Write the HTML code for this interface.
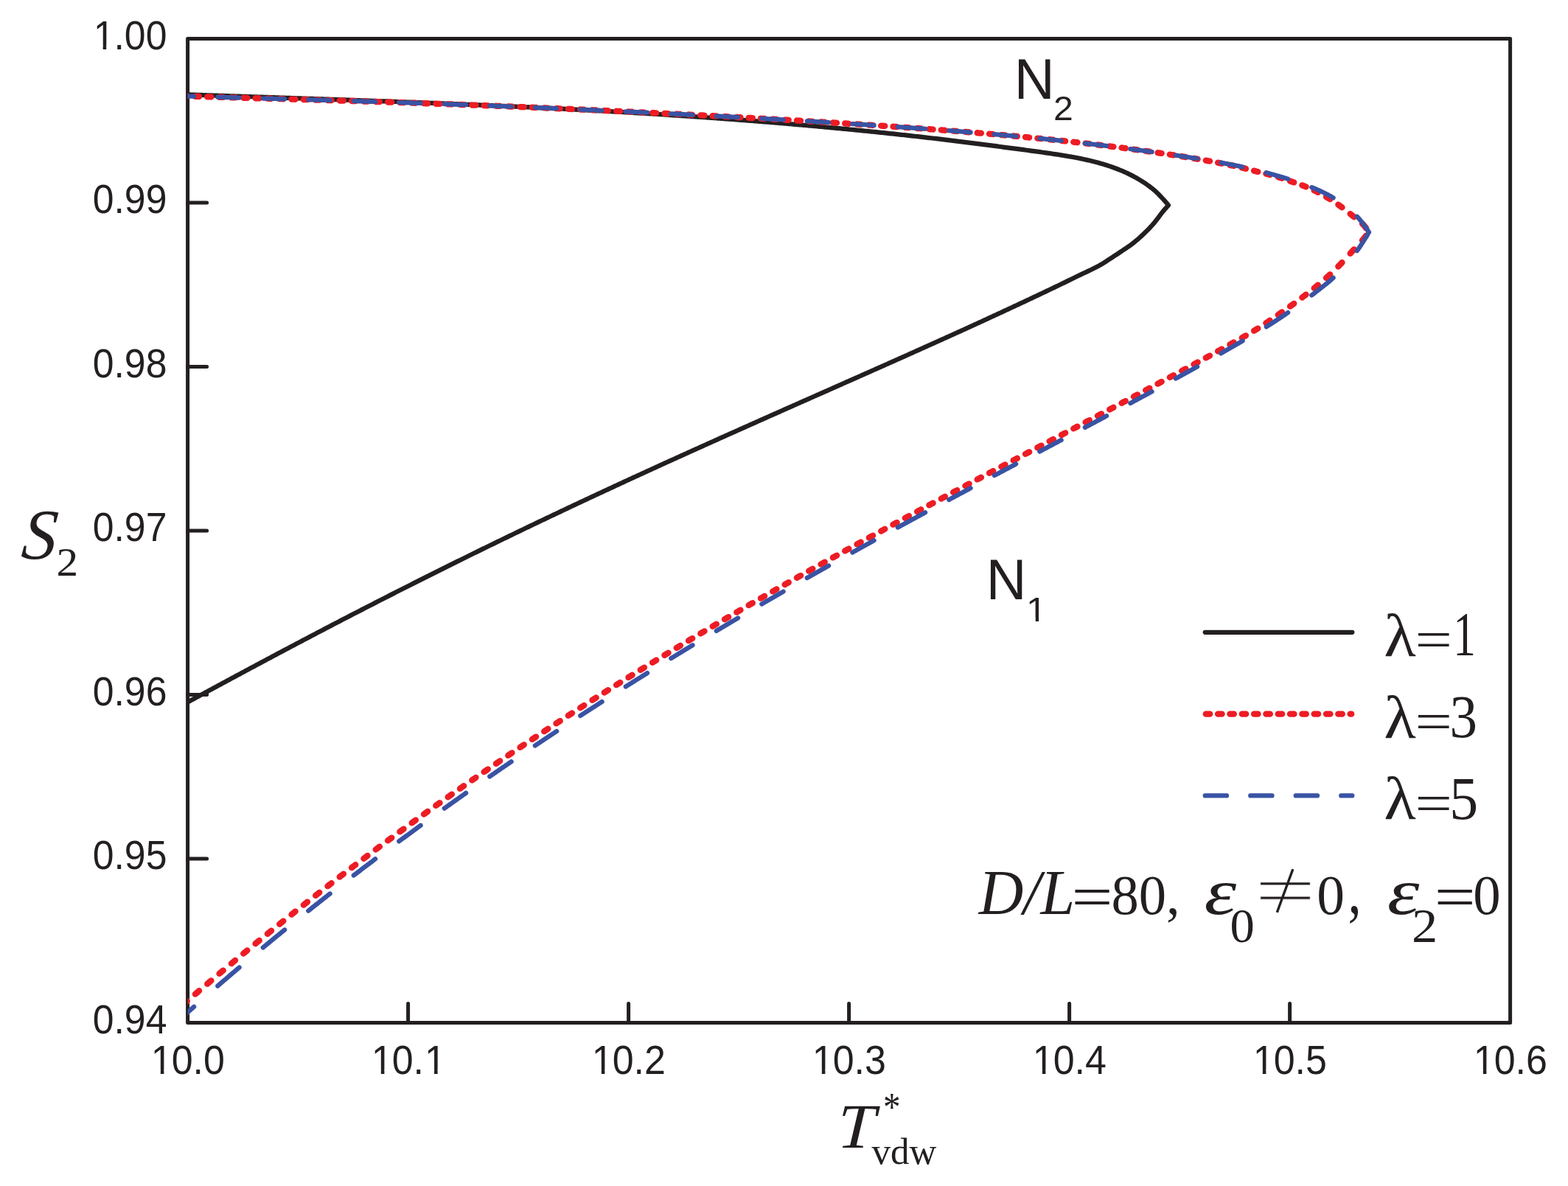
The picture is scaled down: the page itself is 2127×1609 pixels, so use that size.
<!DOCTYPE html>
<html lang="en">
<head>
<meta charset="utf-8">
<title>S2 versus T*vdw</title>
<style>
html,body{margin:0;padding:0;background:#fff;}
body{width:2127px;height:1609px;overflow:hidden;}
svg{display:block;}
text{fill:#231f20;}
</style>
</head>
<body>
<svg xmlns="http://www.w3.org/2000/svg" width="2127" height="1609" viewBox="0 0 2127 1609">
<rect width="2127" height="1609" fill="#fff"/>
<defs><clipPath id="plot"><rect x="254.6" y="52.5" width="1794.0" height="1335.0"/></clipPath></defs>
<!-- axes frame and ticks -->
<g fill="none" stroke="#231f20" stroke-width="5.0" stroke-linecap="round" stroke-linejoin="round">
<rect x="254.6" y="52.5" width="1794.0" height="1335.0"/>
<path d="M553.60,1387.5 V1361.50 M254.6,275.00 H280.60 M852.60,1387.5 V1361.50 M254.6,497.50 H280.60 M1151.60,1387.5 V1361.50 M254.6,720.00 H280.60 M1450.60,1387.5 V1361.50 M254.6,942.50 H280.60 M1749.60,1387.5 V1361.50 M254.6,1165.00 H280.60"/>
</g>
<!-- data curves -->
<g clip-path="url(#plot)" fill="none" stroke-linecap="round" stroke-linejoin="round">
<path stroke="#231f20" stroke-width="6.25" d="M229.60,127.49 L231.60,127.56 L233.60,127.63 L235.61,127.70 L237.61,127.76 L239.61,127.83 L241.61,127.90 L243.61,127.97 L245.62,128.04 L247.62,128.10 L249.62,128.17 L251.62,128.24 L253.62,128.31 L255.63,128.37 L257.63,128.44 L259.63,128.51 L261.63,128.58 L263.64,128.65 L265.64,128.71 L267.64,128.78 L269.64,128.85 L271.64,128.92 L273.65,128.98 L275.65,129.05 L277.65,129.12 L279.65,129.19 L281.65,129.25 L283.66,129.32 L285.66,129.39 L287.66,129.45 L289.66,129.52 L291.66,129.59 L293.67,129.66 L295.67,129.72 L297.67,129.79 L299.67,129.86 L301.67,129.92 L303.68,129.99 L305.68,130.06 L307.68,130.12 L309.68,130.19 L311.68,130.26 L313.69,130.32 L315.69,130.39 L317.69,130.46 L319.69,130.52 L321.70,130.59 L323.70,130.66 L325.70,130.72 L327.70,130.79 L329.70,130.85 L331.71,130.92 L333.71,130.99 L335.71,131.05 L337.71,131.12 L339.71,131.18 L341.72,131.25 L343.72,131.32 L345.72,131.38 L347.72,131.45 L349.72,131.51 L351.73,131.58 L353.73,131.65 L355.73,131.71 L357.73,131.78 L359.73,131.84 L361.74,131.91 L363.74,131.98 L365.74,132.04 L367.74,132.11 L369.74,132.17 L371.75,132.24 L373.75,132.31 L375.75,132.37 L377.75,132.44 L379.76,132.51 L381.76,132.57 L383.76,132.64 L385.76,132.71 L387.76,132.78 L389.77,132.84 L391.77,132.91 L393.77,132.98 L395.77,133.04 L397.77,133.11 L399.78,133.18 L401.78,133.25 L403.78,133.31 L405.78,133.38 L407.78,133.45 L409.79,133.52 L411.79,133.58 L413.79,133.65 L415.79,133.72 L417.79,133.79 L419.80,133.85 L421.80,133.92 L423.80,133.99 L425.80,134.06 L427.80,134.12 L429.81,134.19 L431.81,134.26 L433.81,134.33 L435.81,134.40 L437.82,134.46 L439.82,134.53 L441.82,134.60 L443.82,134.67 L445.82,134.74 L447.83,134.80 L449.83,134.87 L451.83,134.94 L453.83,135.01 L455.83,135.08 L457.84,135.15 L459.84,135.22 L461.84,135.29 L463.84,135.35 L465.84,135.42 L467.85,135.49 L469.85,135.56 L471.85,135.63 L473.85,135.70 L475.85,135.77 L477.86,135.84 L479.86,135.91 L481.86,135.98 L483.86,136.05 L485.86,136.12 L487.87,136.20 L489.87,136.27 L491.87,136.34 L493.87,136.41 L495.88,136.48 L497.88,136.55 L499.88,136.62 L501.88,136.70 L503.88,136.77 L505.89,136.84 L507.89,136.91 L509.89,136.98 L511.89,137.06 L513.89,137.13 L515.90,137.20 L517.90,137.27 L519.90,137.35 L521.90,137.42 L523.90,137.49 L525.91,137.56 L527.91,137.64 L529.91,137.71 L531.91,137.78 L533.91,137.86 L535.92,137.93 L537.92,138.00 L539.92,138.08 L541.92,138.15 L543.92,138.23 L545.93,138.30 L547.93,138.38 L549.93,138.45 L551.93,138.53 L553.94,138.60 L555.94,138.68 L557.94,138.75 L559.94,138.83 L561.94,138.90 L563.95,138.98 L565.95,139.06 L567.95,139.13 L569.95,139.21 L571.95,139.29 L573.96,139.36 L575.96,139.44 L577.96,139.52 L579.96,139.60 L581.96,139.67 L583.97,139.75 L585.97,139.83 L587.97,139.91 L589.97,139.99 L591.97,140.07 L593.98,140.15 L595.98,140.23 L597.98,140.31 L599.98,140.38 L601.98,140.46 L603.99,140.54 L605.99,140.63 L607.99,140.71 L609.99,140.79 L611.99,140.87 L614.00,140.95 L616.00,141.03 L618.00,141.11 L620.00,141.19 L622.01,141.27 L624.01,141.36 L626.01,141.44 L628.01,141.52 L630.01,141.60 L632.02,141.69 L634.02,141.77 L636.02,141.85 L638.02,141.94 L640.02,142.02 L642.03,142.10 L644.03,142.19 L646.03,142.27 L648.03,142.36 L650.03,142.44 L652.04,142.53 L654.04,142.61 L656.04,142.70 L658.04,142.79 L660.04,142.87 L662.05,142.96 L664.05,143.05 L666.05,143.13 L668.05,143.22 L670.05,143.31 L672.06,143.40 L674.06,143.48 L676.06,143.57 L678.06,143.66 L680.07,143.75 L682.07,143.84 L684.07,143.93 L686.07,144.02 L688.07,144.11 L690.08,144.20 L692.08,144.29 L694.08,144.38 L696.08,144.47 L698.08,144.56 L700.09,144.65 L702.09,144.75 L704.09,144.84 L706.09,144.93 L708.09,145.02 L710.10,145.12 L712.10,145.21 L714.10,145.30 L716.10,145.40 L718.10,145.49 L720.11,145.59 L722.11,145.68 L724.11,145.78 L726.11,145.87 L728.11,145.97 L730.12,146.06 L732.12,146.16 L734.12,146.26 L736.12,146.35 L738.13,146.45 L740.13,146.55 L742.13,146.65 L744.13,146.74 L746.13,146.84 L748.14,146.94 L750.14,147.04 L752.14,147.14 L754.14,147.24 L756.14,147.34 L758.15,147.44 L760.15,147.54 L762.15,147.64 L764.15,147.74 L766.15,147.85 L768.16,147.95 L770.16,148.05 L772.16,148.15 L774.16,148.26 L776.16,148.36 L778.17,148.46 L780.17,148.57 L782.17,148.67 L784.17,148.78 L786.17,148.88 L788.18,148.99 L790.18,149.09 L792.18,149.20 L794.18,149.31 L796.19,149.41 L798.19,149.52 L800.19,149.63 L802.19,149.74 L804.19,149.84 L806.20,149.95 L808.20,150.06 L810.20,150.17 L812.20,150.28 L814.20,150.39 L816.21,150.50 L818.21,150.61 L820.21,150.72 L822.21,150.84 L824.21,150.95 L826.22,151.06 L828.22,151.17 L830.22,151.29 L832.22,151.40 L834.22,151.51 L836.23,151.63 L838.23,151.74 L840.23,151.86 L842.23,151.97 L844.23,152.09 L846.24,152.21 L848.24,152.32 L850.24,152.44 L852.24,152.56 L854.25,152.67 L856.25,152.79 L858.25,152.91 L860.25,153.03 L862.25,153.15 L864.26,153.27 L866.26,153.39 L868.26,153.51 L870.26,153.63 L872.26,153.75 L874.27,153.87 L876.27,154.00 L878.27,154.12 L880.27,154.24 L882.27,154.37 L884.28,154.49 L886.28,154.61 L888.28,154.74 L890.28,154.86 L892.28,154.99 L894.29,155.12 L896.29,155.24 L898.29,155.37 L900.29,155.50 L902.29,155.62 L904.30,155.75 L906.30,155.88 L908.30,156.01 L910.30,156.14 L912.31,156.27 L914.31,156.40 L916.31,156.53 L918.31,156.66 L920.31,156.80 L922.32,156.93 L924.32,157.06 L926.32,157.20 L928.32,157.33 L930.32,157.46 L932.33,157.60 L934.33,157.73 L936.33,157.87 L938.33,158.01 L940.33,158.14 L942.34,158.28 L944.34,158.42 L946.34,158.55 L948.34,158.69 L950.34,158.83 L952.35,158.97 L954.35,159.11 L956.35,159.25 L958.35,159.39 L960.35,159.53 L962.36,159.67 L964.36,159.82 L966.36,159.96 L968.36,160.10 L970.37,160.24 L972.37,160.39 L974.37,160.53 L976.37,160.68 L978.37,160.82 L980.38,160.97 L982.38,161.11 L984.38,161.26 L986.38,161.41 L988.38,161.56 L990.39,161.71 L992.39,161.85 L994.39,162.00 L996.39,162.15 L998.39,162.30 L1000.40,162.46 L1002.40,162.61 L1004.40,162.76 L1006.40,162.91 L1008.40,163.07 L1010.41,163.22 L1012.41,163.37 L1014.41,163.53 L1016.41,163.69 L1018.41,163.84 L1020.42,164.00 L1022.42,164.15 L1024.42,164.31 L1026.42,164.47 L1028.43,164.63 L1030.43,164.79 L1032.43,164.95 L1034.43,165.11 L1036.43,165.27 L1038.44,165.43 L1040.44,165.59 L1042.44,165.75 L1044.44,165.92 L1046.44,166.08 L1048.45,166.24 L1050.45,166.41 L1052.45,166.57 L1054.45,166.74 L1056.45,166.91 L1058.46,167.07 L1060.46,167.24 L1062.46,167.41 L1064.46,167.57 L1066.46,167.74 L1068.47,167.91 L1070.47,168.08 L1072.47,168.25 L1074.47,168.42 L1076.47,168.59 L1078.48,168.77 L1080.48,168.94 L1082.48,169.11 L1084.48,169.29 L1086.49,169.46 L1088.49,169.64 L1090.49,169.81 L1092.49,169.99 L1094.49,170.16 L1096.50,170.34 L1098.50,170.52 L1100.50,170.70 L1102.50,170.88 L1104.50,171.06 L1106.51,171.24 L1108.51,171.42 L1110.51,171.60 L1112.51,171.79 L1114.51,171.97 L1116.52,172.15 L1118.52,172.34 L1120.52,172.52 L1122.52,172.71 L1124.52,172.89 L1126.53,173.08 L1128.53,173.27 L1130.53,173.45 L1132.53,173.64 L1134.53,173.83 L1136.54,174.02 L1138.54,174.21 L1140.54,174.40 L1142.54,174.60 L1144.55,174.79 L1146.55,174.98 L1148.55,175.17 L1150.55,175.37 L1152.55,175.56 L1154.56,175.76 L1156.56,175.95 L1158.56,176.15 L1160.56,176.34 L1162.56,176.54 L1164.57,176.74 L1166.57,176.94 L1168.57,177.14 L1170.57,177.34 L1172.57,177.54 L1174.58,177.74 L1176.58,177.94 L1178.58,178.14 L1180.58,178.35 L1182.58,178.55 L1184.59,178.76 L1186.59,178.96 L1188.59,179.17 L1190.59,179.37 L1192.59,179.58 L1194.60,179.79 L1196.60,180.00 L1198.60,180.21 L1200.60,180.42 L1202.61,180.63 L1204.61,180.84 L1206.61,181.05 L1208.61,181.27 L1210.61,181.48 L1212.62,181.70 L1214.62,181.91 L1216.62,182.13 L1218.62,182.34 L1220.62,182.56 L1222.63,182.78 L1224.63,183.00 L1226.63,183.22 L1228.63,183.44 L1230.63,183.66 L1232.64,183.88 L1234.64,184.10 L1236.64,184.32 L1238.64,184.54 L1240.64,184.77 L1242.65,184.99 L1244.65,185.22 L1246.65,185.44 L1248.65,185.67 L1250.65,185.90 L1252.66,186.13 L1254.66,186.35 L1256.66,186.58 L1258.66,186.81 L1260.66,187.04 L1262.67,187.27 L1264.67,187.51 L1266.67,187.74 L1268.67,187.97 L1270.68,188.20 L1272.68,188.44 L1274.68,188.68 L1276.68,188.91 L1278.68,189.15 L1280.69,189.39 L1282.69,189.63 L1284.69,189.87 L1286.69,190.11 L1288.69,190.35 L1290.70,190.59 L1292.70,190.83 L1294.70,191.07 L1296.70,191.32 L1298.70,191.56 L1300.71,191.81 L1302.71,192.06 L1304.71,192.30 L1306.71,192.55 L1308.71,192.80 L1310.72,193.05 L1312.72,193.30 L1314.72,193.55 L1316.72,193.80 L1318.72,194.05 L1320.73,194.31 L1322.73,194.56 L1324.73,194.82 L1326.73,195.07 L1328.74,195.33 L1330.74,195.59 L1332.74,195.84 L1334.74,196.10 L1336.74,196.36 L1338.75,196.62 L1340.75,196.88 L1342.75,197.14 L1344.75,197.40 L1346.75,197.67 L1348.76,197.93 L1350.76,198.19 L1352.76,198.46 L1354.76,198.73 L1356.76,198.99 L1358.77,199.26 L1360.77,199.53 L1362.77,199.79 L1364.77,200.06 L1366.77,200.32 L1368.78,200.59 L1370.78,200.85 L1372.78,201.11 L1374.78,201.38 L1376.78,201.64 L1378.79,201.90 L1380.79,202.16 L1382.79,202.43 L1384.79,202.69 L1386.80,202.95 L1388.80,203.22 L1390.80,203.48 L1392.80,203.75 L1394.80,204.01 L1396.81,204.28 L1398.81,204.55 L1400.81,204.82 L1402.81,205.09 L1404.81,205.36 L1406.82,205.63 L1408.82,205.91 L1410.82,206.19 L1412.82,206.47 L1414.82,206.75 L1416.83,207.03 L1418.83,207.32 L1420.83,207.61 L1422.83,207.90 L1424.83,208.19 L1426.84,208.49 L1428.84,208.79 L1430.84,209.10 L1432.84,209.40 L1434.84,209.71 L1436.85,210.03 L1438.85,210.34 L1440.85,210.66 L1442.85,210.99 L1444.86,211.32 L1446.86,211.65 L1448.86,211.99 L1450.86,212.33 L1452.86,212.68 L1454.87,213.03 L1456.87,213.38 L1458.87,213.75 L1460.87,214.13 L1462.87,214.52 L1464.88,214.92 L1466.88,215.33 L1468.88,215.75 L1470.88,216.19 L1472.88,216.63 L1474.89,217.09 L1476.89,217.55 L1478.89,218.03 L1480.89,218.52 L1482.89,219.02 L1484.90,219.53 L1486.90,220.05 L1488.90,220.59 L1490.90,221.13 L1492.90,221.70 L1494.91,222.27 L1496.91,222.86 L1498.91,223.47 L1500.91,224.09 L1502.92,224.73 L1504.92,225.39 L1506.92,226.06 L1508.92,226.75 L1510.92,227.46 L1512.93,228.20 L1514.93,228.96 L1516.93,229.74 L1518.93,230.54 L1520.93,231.37 L1522.94,232.22 L1524.94,233.10 L1526.94,234.00 L1528.94,234.92 L1530.94,235.87 L1532.95,236.85 L1534.95,237.86 L1536.95,238.89 L1538.95,239.95 L1540.95,241.04 L1542.96,242.17 L1544.96,243.34 L1546.96,244.55 L1548.96,245.79 L1550.96,247.08 L1552.97,248.40 L1554.97,249.77 L1556.97,251.19 L1558.97,252.64 L1560.98,254.15 L1562.98,255.70 L1564.98,257.31 L1566.98,259.04 L1568.98,260.91 L1570.99,262.89 L1572.99,264.95 L1574.99,267.08 L1576.99,269.25 L1578.99,271.42 L1581.00,273.66 L1583.00,276.00 L1585.00,278.40 L1583.00,280.58 L1581.00,282.83 L1578.99,285.15 L1576.99,287.59 L1574.99,290.17 L1572.99,292.83 L1570.99,295.52 L1568.98,298.17 L1566.98,300.74 L1564.98,303.16 L1562.98,305.44 L1560.98,307.64 L1558.97,309.78 L1556.97,311.85 L1554.97,313.87 L1552.97,315.84 L1550.96,317.76 L1548.96,319.64 L1546.96,321.48 L1544.96,323.28 L1542.96,325.03 L1540.95,326.73 L1538.95,328.38 L1536.95,329.97 L1534.95,331.50 L1532.95,332.96 L1530.94,334.37 L1528.94,335.74 L1526.94,337.09 L1524.94,338.43 L1522.94,339.77 L1520.93,341.12 L1518.93,342.46 L1516.93,343.79 L1514.93,345.12 L1512.93,346.43 L1510.92,347.73 L1508.92,349.03 L1506.92,350.33 L1504.92,351.64 L1502.92,352.96 L1500.91,354.27 L1498.91,355.57 L1496.91,356.84 L1494.91,358.07 L1492.90,359.26 L1490.90,360.39 L1488.90,361.47 L1486.90,362.52 L1484.90,363.54 L1482.89,364.54 L1480.89,365.51 L1478.89,366.47 L1476.89,367.42 L1474.89,368.36 L1472.88,369.29 L1470.88,370.23 L1468.88,371.16 L1466.88,372.11 L1464.88,373.07 L1462.87,374.05 L1460.87,375.03 L1458.87,376.01 L1456.87,376.99 L1454.87,377.97 L1452.86,378.95 L1450.86,379.93 L1448.86,380.91 L1446.86,381.89 L1444.86,382.87 L1442.85,383.84 L1440.85,384.81 L1438.85,385.78 L1436.85,386.75 L1434.84,387.71 L1432.84,388.67 L1430.84,389.63 L1428.84,390.59 L1426.84,391.55 L1424.83,392.50 L1422.83,393.46 L1420.83,394.41 L1418.83,395.37 L1416.83,396.32 L1414.82,397.27 L1412.82,398.22 L1410.82,399.17 L1408.82,400.12 L1406.82,401.06 L1404.81,402.01 L1402.81,402.95 L1400.81,403.90 L1398.81,404.84 L1396.81,405.79 L1394.80,406.73 L1392.80,407.67 L1390.80,408.61 L1388.80,409.55 L1386.80,410.49 L1384.79,411.42 L1382.79,412.36 L1380.79,413.30 L1378.79,414.23 L1376.78,415.17 L1374.78,416.10 L1372.78,417.04 L1370.78,417.97 L1368.78,418.90 L1366.77,419.83 L1364.77,420.76 L1362.77,421.69 L1360.77,422.62 L1358.77,423.55 L1356.76,424.48 L1354.76,425.41 L1352.76,426.33 L1350.76,427.26 L1348.76,428.19 L1346.75,429.11 L1344.75,430.04 L1342.75,430.96 L1340.75,431.88 L1338.75,432.81 L1336.74,433.73 L1334.74,434.65 L1332.74,435.57 L1330.74,436.49 L1328.74,437.41 L1326.73,438.33 L1324.73,439.25 L1322.73,440.16 L1320.73,441.08 L1318.72,441.99 L1316.72,442.91 L1314.72,443.82 L1312.72,444.73 L1310.72,445.65 L1308.71,446.56 L1306.71,447.47 L1304.71,448.38 L1302.71,449.29 L1300.71,450.20 L1298.70,451.10 L1296.70,452.01 L1294.70,452.92 L1292.70,453.83 L1290.70,454.73 L1288.69,455.64 L1286.69,456.54 L1284.69,457.45 L1282.69,458.35 L1280.69,459.25 L1278.68,460.16 L1276.68,461.06 L1274.68,461.96 L1272.68,462.86 L1270.68,463.77 L1268.67,464.67 L1266.67,465.57 L1264.67,466.47 L1262.67,467.37 L1260.66,468.27 L1258.66,469.17 L1256.66,470.07 L1254.66,470.97 L1252.66,471.87 L1250.65,472.77 L1248.65,473.67 L1246.65,474.57 L1244.65,475.47 L1242.65,476.37 L1240.64,477.27 L1238.64,478.16 L1236.64,479.06 L1234.64,479.96 L1232.64,480.85 L1230.63,481.75 L1228.63,482.65 L1226.63,483.54 L1224.63,484.43 L1222.63,485.33 L1220.62,486.22 L1218.62,487.11 L1216.62,488.01 L1214.62,488.90 L1212.62,489.79 L1210.61,490.68 L1208.61,491.57 L1206.61,492.46 L1204.61,493.35 L1202.61,494.24 L1200.60,495.13 L1198.60,496.02 L1196.60,496.91 L1194.60,497.80 L1192.59,498.69 L1190.59,499.58 L1188.59,500.47 L1186.59,501.36 L1184.59,502.25 L1182.58,503.13 L1180.58,504.02 L1178.58,504.91 L1176.58,505.80 L1174.58,506.69 L1172.57,507.58 L1170.57,508.46 L1168.57,509.35 L1166.57,510.24 L1164.57,511.13 L1162.56,512.02 L1160.56,512.90 L1158.56,513.79 L1156.56,514.68 L1154.56,515.57 L1152.55,516.46 L1150.55,517.35 L1148.55,518.23 L1146.55,519.12 L1144.55,520.01 L1142.54,520.90 L1140.54,521.79 L1138.54,522.68 L1136.54,523.56 L1134.53,524.45 L1132.53,525.34 L1130.53,526.22 L1128.53,527.11 L1126.53,528.00 L1124.52,528.88 L1122.52,529.77 L1120.52,530.66 L1118.52,531.54 L1116.52,532.43 L1114.51,533.31 L1112.51,534.20 L1110.51,535.08 L1108.51,535.97 L1106.51,536.86 L1104.50,537.74 L1102.50,538.63 L1100.50,539.51 L1098.50,540.40 L1096.50,541.28 L1094.49,542.17 L1092.49,543.06 L1090.49,543.94 L1088.49,544.83 L1086.49,545.71 L1084.48,546.60 L1082.48,547.49 L1080.48,548.37 L1078.48,549.26 L1076.47,550.15 L1074.47,551.03 L1072.47,551.92 L1070.47,552.81 L1068.47,553.70 L1066.46,554.59 L1064.46,555.47 L1062.46,556.36 L1060.46,557.25 L1058.46,558.14 L1056.45,559.03 L1054.45,559.92 L1052.45,560.81 L1050.45,561.70 L1048.45,562.59 L1046.44,563.48 L1044.44,564.37 L1042.44,565.26 L1040.44,566.16 L1038.44,567.05 L1036.43,567.94 L1034.43,568.83 L1032.43,569.72 L1030.43,570.61 L1028.43,571.50 L1026.42,572.39 L1024.42,573.28 L1022.42,574.17 L1020.42,575.06 L1018.41,575.96 L1016.41,576.85 L1014.41,577.74 L1012.41,578.63 L1010.41,579.52 L1008.40,580.42 L1006.40,581.31 L1004.40,582.20 L1002.40,583.09 L1000.40,583.99 L998.39,584.88 L996.39,585.78 L994.39,586.67 L992.39,587.57 L990.39,588.46 L988.38,589.36 L986.38,590.25 L984.38,591.15 L982.38,592.04 L980.38,592.94 L978.37,593.84 L976.37,594.73 L974.37,595.63 L972.37,596.53 L970.37,597.43 L968.36,598.33 L966.36,599.23 L964.36,600.13 L962.36,601.03 L960.35,601.93 L958.35,602.83 L956.35,603.73 L954.35,604.64 L952.35,605.54 L950.34,606.44 L948.34,607.34 L946.34,608.25 L944.34,609.15 L942.34,610.05 L940.33,610.96 L938.33,611.86 L936.33,612.77 L934.33,613.67 L932.33,614.57 L930.32,615.48 L928.32,616.39 L926.32,617.29 L924.32,618.20 L922.32,619.10 L920.31,620.01 L918.31,620.92 L916.31,621.83 L914.31,622.73 L912.31,623.64 L910.30,624.55 L908.30,625.46 L906.30,626.37 L904.30,627.28 L902.29,628.19 L900.29,629.10 L898.29,630.01 L896.29,630.92 L894.29,631.84 L892.28,632.75 L890.28,633.66 L888.28,634.58 L886.28,635.49 L884.28,636.41 L882.27,637.32 L880.27,638.24 L878.27,639.15 L876.27,640.07 L874.27,640.99 L872.26,641.91 L870.26,642.82 L868.26,643.74 L866.26,644.66 L864.26,645.58 L862.25,646.50 L860.25,647.42 L858.25,648.35 L856.25,649.27 L854.25,650.19 L852.24,651.11 L850.24,652.04 L848.24,652.96 L846.24,653.88 L844.23,654.81 L842.23,655.73 L840.23,656.66 L838.23,657.59 L836.23,658.51 L834.22,659.44 L832.22,660.37 L830.22,661.29 L828.22,662.22 L826.22,663.15 L824.21,664.08 L822.21,665.01 L820.21,665.94 L818.21,666.87 L816.21,667.80 L814.20,668.73 L812.20,669.67 L810.20,670.60 L808.20,671.53 L806.20,672.47 L804.19,673.40 L802.19,674.33 L800.19,675.27 L798.19,676.21 L796.19,677.14 L794.18,678.08 L792.18,679.02 L790.18,679.96 L788.18,680.90 L786.17,681.84 L784.17,682.78 L782.17,683.72 L780.17,684.66 L778.17,685.60 L776.16,686.54 L774.16,687.49 L772.16,688.43 L770.16,689.37 L768.16,690.32 L766.15,691.27 L764.15,692.21 L762.15,693.16 L760.15,694.11 L758.15,695.05 L756.14,696.00 L754.14,696.95 L752.14,697.90 L750.14,698.85 L748.14,699.80 L746.13,700.75 L744.13,701.70 L742.13,702.66 L740.13,703.61 L738.13,704.56 L736.12,705.52 L734.12,706.47 L732.12,707.43 L730.12,708.38 L728.11,709.34 L726.11,710.30 L724.11,711.25 L722.11,712.21 L720.11,713.17 L718.10,714.13 L716.10,715.09 L714.10,716.05 L712.10,717.01 L710.10,717.97 L708.09,718.94 L706.09,719.90 L704.09,720.86 L702.09,721.83 L700.09,722.79 L698.08,723.76 L696.08,724.72 L694.08,725.69 L692.08,726.66 L690.08,727.63 L688.07,728.60 L686.07,729.56 L684.07,730.53 L682.07,731.50 L680.07,732.48 L678.06,733.45 L676.06,734.42 L674.06,735.39 L672.06,736.37 L670.05,737.34 L668.05,738.32 L666.05,739.29 L664.05,740.27 L662.05,741.25 L660.04,742.22 L658.04,743.20 L656.04,744.18 L654.04,745.16 L652.04,746.14 L650.03,747.12 L648.03,748.10 L646.03,749.08 L644.03,750.07 L642.03,751.05 L640.02,752.03 L638.02,753.02 L636.02,754.00 L634.02,754.99 L632.02,755.98 L630.01,756.96 L628.01,757.95 L626.01,758.94 L624.01,759.93 L622.01,760.92 L620.00,761.91 L618.00,762.90 L616.00,763.89 L614.00,764.88 L611.99,765.88 L609.99,766.87 L607.99,767.86 L605.99,768.86 L603.99,769.85 L601.98,770.85 L599.98,771.85 L597.98,772.84 L595.98,773.84 L593.98,774.84 L591.97,775.84 L589.97,776.84 L587.97,777.84 L585.97,778.84 L583.97,779.84 L581.96,780.84 L579.96,781.85 L577.96,782.85 L575.96,783.85 L573.96,784.86 L571.95,785.86 L569.95,786.87 L567.95,787.88 L565.95,788.88 L563.95,789.89 L561.94,790.90 L559.94,791.91 L557.94,792.92 L555.94,793.93 L553.94,794.94 L551.93,795.95 L549.93,796.97 L547.93,797.98 L545.93,798.99 L543.92,800.01 L541.92,801.02 L539.92,802.04 L537.92,803.06 L535.92,804.07 L533.91,805.09 L531.91,806.11 L529.91,807.13 L527.91,808.15 L525.91,809.17 L523.90,810.19 L521.90,811.21 L519.90,812.23 L517.90,813.26 L515.90,814.28 L513.89,815.30 L511.89,816.33 L509.89,817.35 L507.89,818.38 L505.89,819.41 L503.88,820.43 L501.88,821.46 L499.88,822.49 L497.88,823.52 L495.88,824.55 L493.87,825.58 L491.87,826.61 L489.87,827.64 L487.87,828.67 L485.86,829.70 L483.86,830.73 L481.86,831.77 L479.86,832.80 L477.86,833.83 L475.85,834.87 L473.85,835.90 L471.85,836.94 L469.85,837.98 L467.85,839.02 L465.84,840.06 L463.84,841.09 L461.84,842.13 L459.84,843.17 L457.84,844.22 L455.83,845.26 L453.83,846.30 L451.83,847.34 L449.83,848.39 L447.83,849.43 L445.82,850.48 L443.82,851.52 L441.82,852.57 L439.82,853.61 L437.82,854.66 L435.81,855.71 L433.81,856.76 L431.81,857.80 L429.81,858.85 L427.80,859.90 L425.80,860.95 L423.80,862.01 L421.80,863.06 L419.80,864.11 L417.79,865.16 L415.79,866.21 L413.79,867.27 L411.79,868.32 L409.79,869.38 L407.78,870.43 L405.78,871.49 L403.78,872.54 L401.78,873.60 L399.78,874.66 L397.77,875.71 L395.77,876.77 L393.77,877.83 L391.77,878.89 L389.77,879.95 L387.76,881.01 L385.76,882.07 L383.76,883.13 L381.76,884.19 L379.76,885.25 L377.75,886.32 L375.75,887.38 L373.75,888.44 L371.75,889.51 L369.74,890.57 L367.74,891.64 L365.74,892.71 L363.74,893.77 L361.74,894.84 L359.73,895.91 L357.73,896.98 L355.73,898.05 L353.73,899.12 L351.73,900.19 L349.72,901.26 L347.72,902.33 L345.72,903.40 L343.72,904.47 L341.72,905.54 L339.71,906.62 L337.71,907.69 L335.71,908.77 L333.71,909.84 L331.71,910.92 L329.70,911.99 L327.70,913.07 L325.70,914.14 L323.70,915.22 L321.70,916.30 L319.69,917.37 L317.69,918.45 L315.69,919.53 L313.69,920.61 L311.68,921.69 L309.68,922.77 L307.68,923.85 L305.68,924.93 L303.68,926.01 L301.67,927.09 L299.67,928.17 L297.67,929.25 L295.67,930.33 L293.67,931.41 L291.66,932.49 L289.66,933.58 L287.66,934.66 L285.66,935.74 L283.66,936.83 L281.65,937.91 L279.65,939.00 L277.65,940.08 L275.65,941.17 L273.65,942.25 L271.64,943.34 L269.64,944.42 L267.64,945.51 L265.64,946.60 L263.64,947.69 L261.63,948.78 L259.63,949.86 L257.63,950.95 L255.63,952.04 L253.62,953.13 L251.62,954.22 L249.62,955.31 L247.62,956.41 L245.62,957.50 L243.61,958.59 L241.61,959.68 L239.61,960.78 L237.61,961.87 L235.61,962.96 L233.60,964.06 L231.60,965.15 L229.60,966.25"/>
<path stroke="#ed1c24" stroke-width="8.3" d="M232.26,129.86 L233.30,129.89 L234.34,129.92 L235.38,129.96 L236.42,129.99 L237.46,130.02 M232.26,1376.98 L233.30,1376.07 L234.34,1375.16 L235.38,1374.25 L236.42,1373.34 L237.46,1372.43 M248.58,130.36 L249.62,130.39 L250.66,130.42 L251.70,130.45 L252.74,130.48 L253.78,130.51 M248.58,1362.76 L249.62,1361.86 L250.66,1360.96 L251.70,1360.06 L252.74,1359.16 L253.78,1358.26 M264.90,130.85 L265.94,130.88 L266.98,130.91 L268.02,130.94 L269.06,130.97 L270.10,131.00 M264.90,1348.68 L265.94,1347.78 L266.98,1346.89 L268.02,1346.00 L269.06,1345.11 L270.10,1344.22 M281.22,131.34 L282.26,131.37 L283.30,131.40 L284.34,131.43 L285.38,131.46 L286.42,131.49 M281.22,1334.73 L282.26,1333.84 L283.30,1332.96 L284.34,1332.08 L285.38,1331.19 L286.42,1330.31 M297.54,131.82 L298.58,131.85 L299.62,131.88 L300.66,131.91 L301.70,131.94 L302.74,131.97 M297.54,1320.91 L298.58,1320.04 L299.62,1319.16 L300.66,1318.29 L301.70,1317.41 L302.74,1316.54 M313.86,132.30 L314.90,132.33 L315.94,132.36 L316.98,132.39 L318.02,132.42 L319.06,132.45 M313.86,1307.22 L314.90,1306.36 L315.94,1305.49 L316.98,1304.62 L318.02,1303.76 L319.06,1302.89 M330.18,132.77 L331.22,132.80 L332.26,132.83 L333.30,132.86 L334.34,132.88 L335.38,132.91 M330.18,1293.66 L331.22,1292.80 L332.26,1291.94 L333.30,1291.09 L334.34,1290.23 L335.38,1289.37 M346.50,133.23 L347.54,133.26 L348.58,133.28 L349.62,133.31 L350.66,133.34 L351.70,133.37 M346.50,1280.23 L347.54,1279.38 L348.58,1278.53 L349.62,1277.67 L350.66,1276.82 L351.70,1275.97 M362.82,133.68 L363.86,133.71 L364.90,133.74 L365.94,133.77 L366.98,133.80 L368.02,133.82 M362.82,1266.92 L363.86,1266.08 L364.90,1265.23 L365.94,1264.39 L366.98,1263.55 L368.02,1262.70 M379.14,134.13 L380.18,134.16 L381.22,134.19 L382.26,134.22 L383.30,134.25 L384.34,134.28 M379.14,1253.73 L380.18,1252.90 L381.22,1252.06 L382.26,1251.23 L383.30,1250.39 L384.34,1249.56 M395.46,134.59 L396.50,134.62 L397.54,134.65 L398.58,134.68 L399.62,134.71 L400.66,134.74 M395.46,1240.67 L396.50,1239.84 L397.54,1239.02 L398.58,1238.19 L399.62,1237.36 L400.66,1236.54 M411.78,135.05 L412.82,135.08 L413.86,135.11 L414.90,135.14 L415.94,135.17 L416.98,135.20 M411.78,1227.73 L412.82,1226.91 L413.86,1226.09 L414.90,1225.27 L415.94,1224.45 L416.98,1223.63 M428.10,135.53 L429.14,135.56 L430.18,135.59 L431.22,135.62 L432.26,135.65 L433.30,135.68 M428.10,1214.91 L429.14,1214.09 L430.18,1213.28 L431.22,1212.47 L432.26,1211.66 L433.30,1210.84 M444.42,136.01 L445.46,136.04 L446.50,136.07 L447.54,136.10 L448.58,136.13 L449.62,136.16 M444.42,1202.20 L445.46,1201.39 L446.50,1200.59 L447.54,1199.78 L448.58,1198.98 L449.62,1198.18 M460.74,136.50 L461.78,136.53 L462.82,136.56 L463.86,136.59 L464.90,136.62 L465.94,136.65 M460.74,1189.61 L461.78,1188.81 L462.82,1188.02 L463.86,1187.22 L464.90,1186.42 L465.94,1185.63 M477.06,136.99 L478.10,137.02 L479.14,137.05 L480.18,137.08 L481.22,137.12 L482.26,137.15 M477.06,1177.14 L478.10,1176.35 L479.14,1175.56 L480.18,1174.77 L481.22,1173.98 L482.26,1173.19 M493.38,137.49 L494.42,137.52 L495.46,137.55 L496.50,137.59 L497.54,137.62 L498.58,137.65 M493.38,1164.78 L494.42,1164.00 L495.46,1163.22 L496.50,1162.43 L497.54,1161.65 L498.58,1160.87 M509.70,138.00 L510.74,138.03 L511.78,138.06 L512.82,138.10 L513.86,138.13 L514.90,138.16 M509.70,1152.54 L510.74,1151.76 L511.78,1150.98 L512.82,1150.21 L513.86,1149.43 L514.90,1148.66 M526.02,138.52 L527.06,138.55 L528.10,138.59 L529.14,138.62 L530.18,138.65 L531.22,138.69 M526.02,1140.40 L527.06,1139.63 L528.10,1138.86 L529.14,1138.10 L530.18,1137.33 L531.22,1136.56 M542.34,139.05 L543.38,139.09 L544.42,139.12 L545.46,139.16 L546.50,139.19 L547.54,139.23 M542.34,1128.38 L543.38,1127.62 L544.42,1126.85 L545.46,1126.09 L546.50,1125.33 L547.54,1124.57 M558.66,139.60 L559.70,139.63 L560.74,139.67 L561.78,139.70 L562.82,139.74 L563.86,139.78 M558.66,1116.46 L559.70,1115.71 L560.74,1114.95 L561.78,1114.20 L562.82,1113.44 L563.86,1112.69 M574.98,140.16 L576.02,140.19 L577.06,140.23 L578.10,140.26 L579.14,140.30 L580.18,140.34 M574.98,1104.66 L576.02,1103.91 L577.06,1103.16 L578.10,1102.41 L579.14,1101.66 L580.18,1100.92 M591.30,140.73 L592.34,140.76 L593.38,140.80 L594.42,140.84 L595.46,140.87 L596.50,140.91 M591.30,1092.96 L592.34,1092.21 L593.38,1091.47 L594.42,1090.73 L595.46,1089.99 L596.50,1089.25 M607.62,141.31 L608.66,141.34 L609.70,141.38 L610.74,141.42 L611.78,141.46 L612.82,141.49 M607.62,1081.36 L608.66,1080.62 L609.70,1079.89 L610.74,1079.15 L611.78,1078.42 L612.82,1077.69 M623.94,141.90 L624.98,141.94 L626.02,141.98 L627.06,142.01 L628.10,142.05 L629.14,142.09 M623.94,1069.86 L624.98,1069.14 L626.02,1068.41 L627.06,1067.68 L628.10,1066.95 L629.14,1066.22 M640.26,142.50 L641.30,142.54 L642.34,142.58 L643.38,142.62 L644.42,142.66 L645.46,142.70 M640.26,1058.47 L641.30,1057.75 L642.34,1057.03 L643.38,1056.31 L644.42,1055.59 L645.46,1054.86 M656.58,143.12 L657.62,143.16 L658.66,143.20 L659.70,143.24 L660.74,143.28 L661.78,143.32 M656.58,1047.18 L657.62,1046.47 L658.66,1045.75 L659.70,1045.03 L660.74,1044.32 L661.78,1043.61 M672.90,143.75 L673.94,143.79 L674.98,143.83 L676.02,143.87 L677.06,143.91 L678.10,143.95 M672.90,1035.99 L673.94,1035.28 L674.98,1034.57 L676.02,1033.86 L677.06,1033.15 L678.10,1032.44 M689.22,144.40 L690.26,144.44 L691.30,144.48 L692.34,144.52 L693.38,144.56 L694.42,144.60 M689.22,1024.90 L690.26,1024.19 L691.30,1023.49 L692.34,1022.79 L693.38,1022.08 L694.42,1021.38 M705.54,145.05 L706.58,145.10 L707.62,145.14 L708.66,145.18 L709.70,145.22 L710.74,145.27 M705.54,1013.90 L706.58,1013.20 L707.62,1012.50 L708.66,1011.81 L709.70,1011.11 L710.74,1010.41 M721.86,145.72 L722.90,145.77 L723.94,145.81 L724.98,145.85 L726.02,145.90 L727.06,145.94 M721.86,1002.99 L722.90,1002.30 L723.94,1001.61 L724.98,1000.92 L726.02,1000.23 L727.06,999.54 M738.18,146.41 L739.22,146.45 L740.26,146.49 L741.30,146.54 L742.34,146.58 L743.38,146.63 M738.18,992.18 L739.22,991.50 L740.26,990.81 L741.30,990.13 L742.34,989.44 L743.38,988.76 M754.50,147.10 L755.54,147.14 L756.58,147.19 L757.62,147.23 L758.66,147.28 L759.70,147.32 M754.50,981.46 L755.54,980.78 L756.58,980.10 L757.62,979.42 L758.66,978.75 L759.70,978.07 M770.82,147.80 L771.86,147.85 L772.90,147.89 L773.94,147.94 L774.98,147.98 L776.02,148.03 M770.82,970.84 L771.86,970.16 L772.90,969.49 L773.94,968.81 L774.98,968.14 L776.02,967.47 M787.14,148.52 L788.18,148.57 L789.22,148.61 L790.26,148.66 L791.30,148.70 L792.34,148.75 M787.14,960.30 L788.18,959.63 L789.22,958.96 L790.26,958.29 L791.30,957.62 L792.34,956.96 M803.46,149.25 L804.50,149.30 L805.54,149.34 L806.58,149.39 L807.62,149.44 L808.66,149.49 M803.46,949.84 L804.50,949.18 L805.54,948.51 L806.58,947.85 L807.62,947.19 L808.66,946.53 M819.78,149.99 L820.82,150.04 L821.86,150.09 L822.90,150.14 L823.94,150.18 L824.98,150.23 M819.78,939.47 L820.82,938.81 L821.86,938.16 L822.90,937.50 L823.94,936.84 L824.98,936.19 M836.10,150.75 L837.14,150.80 L838.18,150.85 L839.22,150.89 L840.26,150.94 L841.30,150.99 M836.10,929.19 L837.14,928.54 L838.18,927.88 L839.22,927.23 L840.26,926.58 L841.30,925.93 M852.42,151.52 L853.46,151.57 L854.50,151.61 L855.54,151.66 L856.58,151.71 L857.62,151.76 M852.42,918.99 L853.46,918.34 L854.50,917.69 L855.54,917.05 L856.58,916.40 L857.62,915.76 M868.74,152.29 L869.78,152.34 L870.82,152.39 L871.86,152.44 L872.90,152.49 L873.94,152.54 M868.74,908.87 L869.78,908.23 L870.82,907.58 L871.86,906.94 L872.90,906.30 L873.94,905.66 M885.06,153.08 L886.10,153.13 L887.14,153.18 L888.18,153.23 L889.22,153.28 L890.26,153.33 M885.06,898.83 L886.10,898.19 L887.14,897.55 L888.18,896.91 L889.22,896.28 L890.26,895.64 M901.38,153.88 L902.42,153.93 L903.46,153.98 L904.50,154.03 L905.54,154.09 L906.58,154.14 M901.38,888.86 L902.42,888.22 L903.46,887.59 L904.50,886.96 L905.54,886.33 L906.58,885.70 M917.70,154.69 L918.74,154.74 L919.78,154.80 L920.82,154.85 L921.86,154.90 L922.90,154.95 M917.70,878.97 L918.74,878.34 L919.78,877.71 L920.82,877.09 L921.86,876.46 L922.90,875.83 M934.02,155.52 L935.06,155.57 L936.10,155.62 L937.14,155.68 L938.18,155.73 L939.22,155.78 M934.02,869.15 L935.06,868.53 L936.10,867.91 L937.14,867.29 L938.18,866.66 L939.22,866.04 M950.34,156.35 L951.38,156.41 L952.42,156.46 L953.46,156.51 L954.50,156.57 L955.54,156.62 M950.34,859.41 L951.38,858.79 L952.42,858.18 L953.46,857.56 L954.50,856.94 L955.54,856.32 M966.66,157.20 L967.70,157.26 L968.74,157.31 L969.78,157.37 L970.82,157.42 L971.86,157.48 M966.66,849.74 L967.70,849.12 L968.74,848.51 L969.78,847.90 L970.82,847.28 L971.86,846.67 M982.98,158.06 L984.02,158.12 L985.06,158.17 L986.10,158.23 L987.14,158.29 L988.18,158.34 M982.98,840.13 L984.02,839.52 L985.06,838.91 L986.10,838.30 L987.14,837.69 L988.18,837.08 M999.30,158.94 L1000.34,158.99 L1001.38,159.05 L1002.42,159.11 L1003.46,159.16 L1004.50,159.22 M999.30,830.59 L1000.34,829.98 L1001.38,829.38 L1002.42,828.77 L1003.46,828.17 L1004.50,827.56 M1015.62,159.82 L1016.66,159.88 L1017.70,159.94 L1018.74,159.99 L1019.78,160.05 L1020.82,160.11 M1015.62,821.11 L1016.66,820.51 L1017.70,819.91 L1018.74,819.31 L1019.78,818.71 L1020.82,818.11 M1031.94,160.72 L1032.98,160.78 L1034.02,160.84 L1035.06,160.89 L1036.10,160.95 L1037.14,161.01 M1031.94,811.70 L1032.98,811.11 L1034.02,810.51 L1035.06,809.91 L1036.10,809.31 L1037.14,808.72 M1048.26,161.63 L1049.30,161.69 L1050.34,161.75 L1051.38,161.81 L1052.42,161.87 L1053.46,161.93 M1048.26,802.35 L1049.30,801.76 L1050.34,801.16 L1051.38,800.57 L1052.42,799.98 L1053.46,799.38 M1064.58,162.56 L1065.62,162.62 L1066.66,162.68 L1067.70,162.74 L1068.74,162.80 L1069.78,162.86 M1064.58,793.05 L1065.62,792.46 L1066.66,791.87 L1067.70,791.28 L1068.74,790.69 L1069.78,790.10 M1080.90,163.50 L1081.94,163.56 L1082.98,163.62 L1084.02,163.68 L1085.06,163.74 L1086.10,163.81 M1080.90,783.81 L1081.94,783.22 L1082.98,782.64 L1084.02,782.05 L1085.06,781.46 L1086.10,780.88 M1097.22,164.46 L1098.26,164.52 L1099.30,164.59 L1100.34,164.65 L1101.38,164.71 L1102.42,164.77 M1097.22,774.63 L1098.26,774.05 L1099.30,773.46 L1100.34,772.88 L1101.38,772.30 L1102.42,771.71 M1113.54,165.44 L1114.58,165.50 L1115.62,165.57 L1116.66,165.63 L1117.70,165.69 L1118.74,165.76 M1113.54,765.50 L1114.58,764.92 L1115.62,764.34 L1116.66,763.76 L1117.70,763.18 L1118.74,762.60 M1129.86,166.43 L1130.90,166.50 L1131.94,166.56 L1132.98,166.63 L1134.02,166.69 L1135.06,166.75 M1129.86,756.42 L1130.90,755.84 L1131.94,755.27 L1132.98,754.69 L1134.02,754.11 L1135.06,753.54 M1146.18,167.44 L1147.22,167.51 L1148.26,167.57 L1149.30,167.64 L1150.34,167.70 L1151.38,167.77 M1146.18,747.38 L1147.22,746.81 L1148.26,746.23 L1149.30,745.66 L1150.34,745.09 L1151.38,744.51 M1162.50,168.47 L1163.54,168.54 L1164.58,168.61 L1165.62,168.67 L1166.66,168.74 L1167.70,168.81 M1162.50,738.39 L1163.54,737.82 L1164.58,737.24 L1165.62,736.67 L1166.66,736.10 L1167.70,735.53 M1178.82,169.52 L1179.86,169.59 L1180.90,169.66 L1181.94,169.73 L1182.98,169.80 L1184.02,169.86 M1178.82,729.44 L1179.86,728.87 L1180.90,728.30 L1181.94,727.74 L1182.98,727.17 L1184.02,726.60 M1195.14,170.60 L1196.18,170.67 L1197.22,170.74 L1198.26,170.81 L1199.30,170.88 L1200.34,170.95 M1195.14,720.54 L1196.18,719.97 L1197.22,719.41 L1198.26,718.84 L1199.30,718.28 L1200.34,717.71 M1211.46,171.70 L1212.50,171.77 L1213.54,171.85 L1214.58,171.92 L1215.62,171.99 L1216.66,172.06 M1211.46,711.68 L1212.50,711.11 L1213.54,710.55 L1214.58,709.98 L1215.62,709.42 L1216.66,708.86 M1227.78,172.83 L1228.82,172.91 L1229.86,172.98 L1230.90,173.05 L1231.94,173.13 L1232.98,173.20 M1227.78,702.84 L1228.82,702.28 L1229.86,701.72 L1230.90,701.16 L1231.94,700.60 L1232.98,700.03 M1244.10,173.99 L1245.14,174.06 L1246.18,174.14 L1247.22,174.21 L1248.26,174.29 L1249.30,174.36 M1244.10,694.04 L1245.14,693.48 L1246.18,692.92 L1247.22,692.36 L1248.26,691.80 L1249.30,691.24 M1260.42,175.17 L1261.46,175.25 L1262.50,175.33 L1263.54,175.40 L1264.58,175.48 L1265.62,175.56 M1260.42,685.26 L1261.46,684.71 L1262.50,684.15 L1263.54,683.59 L1264.58,683.04 L1265.62,682.48 M1276.74,176.39 L1277.78,176.46 L1278.82,176.54 L1279.86,176.62 L1280.90,176.70 L1281.94,176.78 M1276.74,676.53 L1277.78,675.97 L1278.82,675.42 L1279.86,674.86 L1280.90,674.31 L1281.94,673.75 M1293.06,177.63 L1294.10,177.71 L1295.14,177.79 L1296.18,177.88 L1297.22,177.96 L1298.26,178.04 M1293.06,667.82 L1294.10,667.26 L1295.14,666.71 L1296.18,666.16 L1297.22,665.60 L1298.26,665.05 M1309.38,178.92 L1310.42,179.00 L1311.46,179.09 L1312.50,179.17 L1313.54,179.25 L1314.58,179.34 M1309.38,659.13 L1310.42,658.57 L1311.46,658.02 L1312.50,657.47 L1313.54,656.91 L1314.58,656.36 M1325.70,180.25 L1326.74,180.34 L1327.78,180.42 L1328.82,180.51 L1329.86,180.60 L1330.90,180.68 M1325.70,650.45 L1326.74,649.90 L1327.78,649.34 L1328.82,648.79 L1329.86,648.24 L1330.90,647.69 M1342.02,181.62 L1343.06,181.71 L1344.10,181.80 L1345.14,181.89 L1346.18,181.98 L1347.22,182.07 M1342.02,641.79 L1343.06,641.24 L1344.10,640.68 L1345.14,640.13 L1346.18,639.58 L1347.22,639.03 M1358.34,183.04 L1359.38,183.13 L1360.42,183.22 L1361.46,183.32 L1362.50,183.41 L1363.54,183.50 M1358.34,633.15 L1359.38,632.60 L1360.42,632.05 L1361.46,631.50 L1362.50,630.95 L1363.54,630.40 M1374.66,184.50 L1375.70,184.60 L1376.74,184.69 L1377.78,184.79 L1378.82,184.88 L1379.86,184.98 M1374.66,624.52 L1375.70,623.98 L1376.74,623.43 L1377.78,622.88 L1378.82,622.33 L1379.86,621.78 M1390.98,186.02 L1392.02,186.11 L1393.06,186.21 L1394.10,186.31 L1395.14,186.41 L1396.18,186.51 M1390.98,615.91 L1392.02,615.36 L1393.06,614.81 L1394.10,614.26 L1395.14,613.71 L1396.18,613.16 M1407.30,187.58 L1408.34,187.68 L1409.38,187.79 L1410.42,187.89 L1411.46,187.99 L1412.50,188.09 M1407.30,607.28 L1408.34,606.73 L1409.38,606.19 L1410.42,605.64 L1411.46,605.09 L1412.50,604.54 M1423.62,189.21 L1424.66,189.32 L1425.70,189.42 L1426.74,189.53 L1427.78,189.64 L1428.82,189.74 M1423.62,598.66 L1424.66,598.11 L1425.70,597.56 L1426.74,597.01 L1427.78,596.46 L1428.82,595.91 M1439.94,190.90 L1440.98,191.01 L1442.02,191.12 L1443.06,191.23 L1444.10,191.35 L1445.14,191.46 M1439.94,590.04 L1440.98,589.50 L1442.02,588.95 L1443.06,588.40 L1444.10,587.85 L1445.14,587.30 M1456.26,192.66 L1457.30,192.78 L1458.34,192.89 L1459.38,193.01 L1460.42,193.12 L1461.46,193.24 M1456.26,581.43 L1457.30,580.88 L1458.34,580.33 L1459.38,579.78 L1460.42,579.23 L1461.46,578.69 M1472.58,194.50 L1473.62,194.62 L1474.66,194.74 L1475.70,194.86 L1476.74,194.98 L1477.78,195.10 M1472.58,572.81 L1473.62,572.26 L1474.66,571.71 L1475.70,571.16 L1476.74,570.61 L1477.78,570.06 M1488.90,196.41 L1489.94,196.53 L1490.98,196.66 L1492.02,196.78 L1493.06,196.91 L1494.10,197.03 M1488.90,564.17 L1489.94,563.62 L1490.98,563.07 L1492.02,562.51 L1493.06,561.96 L1494.10,561.41 M1505.22,198.40 L1506.26,198.53 L1507.30,198.66 L1508.34,198.79 L1509.38,198.92 L1510.42,199.05 M1505.22,555.50 L1506.26,554.95 L1507.30,554.40 L1508.34,553.85 L1509.38,553.29 L1510.42,552.74 M1521.54,200.47 L1522.58,200.60 L1523.62,200.74 L1524.66,200.88 L1525.70,201.01 L1526.74,201.15 M1521.54,546.83 L1522.58,546.28 L1523.62,545.72 L1524.66,545.17 L1525.70,544.62 L1526.74,544.06 M1537.86,202.63 L1538.90,202.77 L1539.94,202.92 L1540.98,203.06 L1542.02,203.20 L1543.06,203.34 M1537.86,538.14 L1538.90,537.59 L1539.94,537.04 L1540.98,536.48 L1542.02,535.93 L1543.06,535.37 M1554.18,204.89 L1555.22,205.04 L1556.26,205.18 L1557.30,205.33 L1558.34,205.48 L1559.38,205.63 M1554.18,529.43 L1555.22,528.88 L1556.26,528.32 L1557.30,527.77 L1558.34,527.21 L1559.38,526.65 M1570.50,207.24 L1571.54,207.39 L1572.58,207.54 L1573.62,207.70 L1574.66,207.85 L1575.70,208.00 M1570.50,520.69 L1571.54,520.13 L1572.58,519.57 L1573.62,519.01 L1574.66,518.45 L1575.70,517.89 M1586.82,209.67 L1587.86,209.83 L1588.90,209.99 L1589.94,210.15 L1590.98,210.31 L1592.02,210.47 M1586.82,511.90 L1587.86,511.34 L1588.90,510.78 L1589.94,510.22 L1590.98,509.66 L1592.02,509.10 M1603.14,212.22 L1604.18,212.39 L1605.22,212.55 L1606.26,212.72 L1607.30,212.89 L1608.34,213.06 M1603.14,503.10 L1604.18,502.54 L1605.22,501.98 L1606.26,501.42 L1607.30,500.86 L1608.34,500.30 M1619.46,214.90 L1620.50,215.07 L1621.54,215.25 L1622.58,215.43 L1623.62,215.60 L1624.66,215.78 M1619.46,494.30 L1620.50,493.73 L1621.54,493.17 L1622.58,492.61 L1623.62,492.04 L1624.66,491.48 M1635.78,217.73 L1636.82,217.91 L1637.86,218.10 L1638.90,218.29 L1639.94,218.47 L1640.98,218.66 M1635.78,485.44 L1636.82,484.87 L1637.86,484.30 L1638.90,483.73 L1639.94,483.17 L1640.98,482.60 M1652.10,220.73 L1653.14,220.93 L1654.18,221.13 L1655.22,221.32 L1656.26,221.52 L1657.30,221.73 M1652.10,476.49 L1653.14,475.91 L1654.18,475.34 L1655.22,474.76 L1656.26,474.19 L1657.30,473.61 M1668.42,223.93 L1669.46,224.14 L1670.50,224.35 L1671.54,224.56 L1672.58,224.78 L1673.62,225.00 M1668.42,467.41 L1669.46,466.82 L1670.50,466.24 L1671.54,465.65 L1672.58,465.07 L1673.62,464.49 M1684.74,227.54 L1685.78,227.80 L1686.82,228.05 L1687.86,228.31 L1688.90,228.56 L1689.94,228.82 M1684.74,458.25 L1685.78,457.66 L1686.82,457.07 L1687.86,456.48 L1688.90,455.89 L1689.94,455.29 M1701.06,231.63 L1702.10,231.90 L1703.14,232.16 L1704.18,232.42 L1705.22,232.68 L1706.26,232.94 M1701.06,448.75 L1702.10,448.12 L1703.14,447.48 L1704.18,446.84 L1705.22,446.19 L1706.26,445.54 M1717.38,235.73 L1718.42,235.99 L1719.46,236.26 L1720.50,236.53 L1721.54,236.80 L1722.58,237.07 M1717.38,438.28 L1718.42,437.59 L1719.46,436.88 L1720.50,436.18 L1721.54,435.47 L1722.58,434.76 M1733.70,240.14 L1734.74,240.45 L1735.78,240.76 L1736.82,241.08 L1737.86,241.41 L1738.90,241.74 M1733.70,427.06 L1734.74,426.34 L1735.78,425.61 L1736.82,424.89 L1737.86,424.16 L1738.90,423.43 M1750.02,245.62 L1751.06,245.99 L1752.10,246.35 L1753.14,246.72 L1754.18,247.08 L1755.22,247.44 M1750.02,415.55 L1751.06,414.80 L1752.10,414.05 L1753.14,413.30 L1754.18,412.54 L1755.22,411.79 M1766.34,251.36 L1767.38,251.75 L1768.42,252.15 L1769.46,252.56 L1770.50,252.98 L1771.54,253.41 M1766.34,403.58 L1767.38,402.80 L1768.42,402.01 L1769.46,401.23 L1770.50,400.44 L1771.54,399.65 M1782.66,258.37 L1783.70,258.87 L1784.74,259.38 L1785.78,259.89 L1786.82,260.41 L1787.86,260.94 M1782.66,390.98 L1783.70,390.14 L1784.74,389.29 L1785.78,388.43 L1786.82,387.57 L1787.86,386.70 M1798.98,267.06 L1800.02,267.67 L1801.06,268.29 L1802.10,268.92 L1803.14,269.56 L1804.18,270.20 M1798.98,377.04 L1800.02,376.11 L1801.06,375.16 L1802.10,374.21 L1803.14,373.25 L1804.18,372.29 M1815.30,277.60 L1816.34,278.34 L1817.38,279.08 L1818.42,279.83 L1819.46,280.59 L1820.50,281.36 M1815.30,361.54 L1816.34,360.49 L1817.38,359.43 L1818.42,358.36 L1819.46,357.27 L1820.50,356.16 M1831.62,290.14 L1832.66,290.98 L1833.70,291.84 L1834.74,292.68 L1835.78,293.50 L1836.82,294.31 M1831.62,343.86 L1832.66,342.73 L1833.70,341.60 L1834.74,340.49 L1835.78,339.38 L1836.82,338.28 M1847.94,303.45 L1848.98,304.51 L1850.02,305.62 L1851.06,306.81 L1852.10,308.16 L1853.14,309.67 M1847.94,326.18 L1848.98,324.94 L1850.02,323.68 L1851.06,322.37 L1852.10,321.05 L1853.14,319.69"/>
<path stroke="#3953a4" stroke-width="6.25" d="M233.80,129.91 L234.81,129.94 L235.82,129.97 L236.83,130.00 L237.84,130.03 L238.85,130.06 L239.86,130.09 L240.87,130.12 L241.88,130.15 L242.89,130.18 L243.90,130.21 L244.91,130.25 L245.92,130.28 L246.93,130.31 L247.94,130.34 L248.96,130.37 L249.97,130.40 L250.98,130.43 L251.99,130.46 L253.00,130.49 L254.01,130.52 L255.02,130.55 L256.03,130.58 L257.04,130.61 L258.05,130.64 L259.06,130.67 L260.07,130.70 L261.08,130.73 L262.09,130.76 L263.10,130.79 M233.80,1392.17 L234.81,1391.26 L235.82,1390.34 L236.83,1389.43 L237.84,1388.51 L238.85,1387.60 L239.86,1386.68 L240.87,1385.77 L241.88,1384.86 L242.89,1383.94 L243.90,1383.03 L244.91,1382.12 L245.92,1381.21 L246.93,1380.30 L247.94,1379.40 L248.96,1378.49 L249.97,1377.58 L250.98,1376.68 L251.99,1375.77 L253.00,1374.86 L254.01,1373.96 L255.02,1373.06 L256.03,1372.15 L257.04,1371.25 L258.05,1370.35 L259.06,1369.45 L260.07,1368.55 L261.08,1367.65 L262.09,1366.75 L263.10,1365.85 M295.30,131.75 L296.31,131.78 L297.32,131.81 L298.33,131.84 L299.34,131.87 L300.35,131.90 L301.36,131.93 L302.37,131.96 L303.38,131.99 L304.39,132.02 L305.40,132.05 L306.41,132.08 L307.42,132.11 L308.43,132.14 L309.44,132.17 L310.46,132.20 L311.47,132.23 L312.48,132.26 L313.49,132.29 L314.50,132.32 L315.51,132.35 L316.52,132.37 L317.53,132.40 L318.54,132.43 L319.55,132.46 L320.56,132.49 L321.57,132.52 L322.58,132.55 L323.59,132.58 L324.60,132.61 M295.30,1337.60 L296.31,1336.73 L297.32,1335.85 L298.33,1334.98 L299.34,1334.11 L300.35,1333.23 L301.36,1332.36 L302.37,1331.49 L303.38,1330.62 L304.39,1329.75 L305.40,1328.88 L306.41,1328.01 L307.42,1327.15 L308.43,1326.28 L309.44,1325.41 L310.46,1324.55 L311.47,1323.68 L312.48,1322.82 L313.49,1321.96 L314.50,1321.09 L315.51,1320.23 L316.52,1319.37 L317.53,1318.51 L318.54,1317.65 L319.55,1316.79 L320.56,1315.93 L321.57,1315.07 L322.58,1314.21 L323.59,1313.36 L324.60,1312.50 M356.80,133.51 L357.81,133.54 L358.82,133.57 L359.83,133.60 L360.84,133.63 L361.85,133.65 L362.86,133.68 L363.87,133.71 L364.88,133.74 L365.89,133.77 L366.90,133.79 L367.91,133.82 L368.92,133.85 L369.93,133.88 L370.94,133.91 L371.96,133.93 L372.97,133.96 L373.98,133.99 L374.99,134.02 L376.00,134.05 L377.01,134.07 L378.02,134.10 L379.03,134.13 L380.04,134.16 L381.05,134.19 L382.06,134.21 L383.07,134.24 L384.08,134.27 L385.09,134.30 L386.10,134.33 M356.80,1285.52 L357.81,1284.68 L358.82,1283.85 L359.83,1283.01 L360.84,1282.17 L361.85,1281.34 L362.86,1280.51 L363.87,1279.67 L364.88,1278.84 L365.89,1278.01 L366.90,1277.17 L367.91,1276.34 L368.92,1275.51 L369.93,1274.68 L370.94,1273.85 L371.96,1273.02 L372.97,1272.19 L373.98,1271.36 L374.99,1270.54 L376.00,1269.71 L377.01,1268.88 L378.02,1268.06 L379.03,1267.23 L380.04,1266.40 L381.05,1265.58 L382.06,1264.76 L383.07,1263.93 L384.08,1263.11 L385.09,1262.29 L386.10,1261.47 M418.30,135.24 L419.31,135.27 L420.32,135.30 L421.33,135.33 L422.34,135.36 L423.35,135.39 L424.36,135.42 L425.37,135.45 L426.38,135.48 L427.39,135.51 L428.40,135.54 L429.41,135.57 L430.42,135.60 L431.43,135.63 L432.44,135.66 L433.46,135.69 L434.47,135.72 L435.48,135.75 L436.49,135.77 L437.50,135.80 L438.51,135.83 L439.52,135.86 L440.53,135.89 L441.54,135.92 L442.55,135.95 L443.56,135.98 L444.57,136.01 L445.58,136.04 L446.59,136.07 L447.60,136.10 M418.30,1235.58 L419.31,1234.78 L420.32,1233.98 L421.33,1233.18 L422.34,1232.37 L423.35,1231.57 L424.36,1230.77 L425.37,1229.97 L426.38,1229.17 L427.39,1228.37 L428.40,1227.57 L429.41,1226.78 L430.42,1225.98 L431.43,1225.18 L432.44,1224.38 L433.46,1223.59 L434.47,1222.79 L435.48,1222.00 L436.49,1221.20 L437.50,1220.41 L438.51,1219.61 L439.52,1218.82 L440.53,1218.03 L441.54,1217.24 L442.55,1216.44 L443.56,1215.65 L444.57,1214.86 L445.58,1214.07 L446.59,1213.28 L447.60,1212.49 M479.80,137.07 L480.81,137.10 L481.82,137.13 L482.83,137.17 L483.84,137.20 L484.85,137.23 L485.86,137.26 L486.87,137.29 L487.88,137.32 L488.89,137.35 L489.90,137.38 L490.91,137.41 L491.92,137.44 L492.93,137.48 L493.94,137.51 L494.96,137.54 L495.97,137.57 L496.98,137.60 L497.99,137.63 L499.00,137.66 L500.01,137.70 L501.02,137.73 L502.03,137.76 L503.04,137.79 L504.05,137.82 L505.06,137.85 L506.07,137.88 L507.08,137.92 L508.09,137.95 L509.10,137.98 M479.80,1187.58 L480.81,1186.81 L481.82,1186.04 L482.83,1185.26 L483.84,1184.49 L484.85,1183.72 L485.86,1182.95 L486.87,1182.18 L487.88,1181.41 L488.89,1180.64 L489.90,1179.87 L490.91,1179.10 L491.92,1178.33 L492.93,1177.56 L493.94,1176.80 L494.96,1176.03 L495.97,1175.26 L496.98,1174.50 L497.99,1173.73 L499.00,1172.97 L500.01,1172.20 L501.02,1171.44 L502.03,1170.68 L503.04,1169.91 L504.05,1169.15 L505.06,1168.39 L506.07,1167.63 L507.08,1166.86 L508.09,1166.10 L509.10,1165.34 M541.30,139.02 L542.31,139.05 L543.32,139.09 L544.33,139.12 L545.34,139.15 L546.35,139.19 L547.36,139.22 L548.37,139.25 L549.38,139.29 L550.39,139.32 L551.40,139.35 L552.41,139.39 L553.42,139.42 L554.43,139.46 L555.44,139.49 L556.46,139.52 L557.47,139.56 L558.48,139.59 L559.49,139.63 L560.50,139.66 L561.51,139.70 L562.52,139.73 L563.53,139.76 L564.54,139.80 L565.55,139.83 L566.56,139.87 L567.57,139.90 L568.58,139.94 L569.59,139.97 L570.60,140.01 M541.30,1141.33 L542.31,1140.59 L543.32,1139.84 L544.33,1139.09 L545.34,1138.35 L546.35,1137.60 L547.36,1136.86 L548.37,1136.12 L549.38,1135.37 L550.39,1134.63 L551.40,1133.89 L552.41,1133.14 L553.42,1132.40 L554.43,1131.66 L555.44,1130.92 L556.46,1130.18 L557.47,1129.44 L558.48,1128.70 L559.49,1127.96 L560.50,1127.22 L561.51,1126.48 L562.52,1125.74 L563.53,1125.01 L564.54,1124.27 L565.55,1123.53 L566.56,1122.80 L567.57,1122.06 L568.58,1121.33 L569.59,1120.59 L570.60,1119.86 M602.80,141.13 L603.81,141.17 L604.82,141.21 L605.83,141.24 L606.84,141.28 L607.85,141.32 L608.86,141.35 L609.87,141.39 L610.88,141.42 L611.89,141.46 L612.90,141.50 L613.91,141.53 L614.92,141.57 L615.93,141.61 L616.94,141.64 L617.96,141.68 L618.97,141.72 L619.98,141.76 L620.99,141.79 L622.00,141.83 L623.01,141.87 L624.02,141.90 L625.03,141.94 L626.04,141.98 L627.05,142.01 L628.06,142.05 L629.07,142.09 L630.08,142.13 L631.09,142.16 L632.10,142.20 M602.80,1096.66 L603.81,1095.94 L604.82,1095.22 L605.83,1094.50 L606.84,1093.78 L607.85,1093.06 L608.86,1092.34 L609.87,1091.62 L610.88,1090.90 L611.89,1090.18 L612.90,1089.46 L613.91,1088.75 L614.92,1088.03 L615.93,1087.31 L616.94,1086.60 L617.96,1085.88 L618.97,1085.16 L619.98,1084.45 L620.99,1083.73 L622.00,1083.02 L623.01,1082.30 L624.02,1081.59 L625.03,1080.88 L626.04,1080.16 L627.05,1079.45 L628.06,1078.74 L629.07,1078.03 L630.08,1077.32 L631.09,1076.60 L632.10,1075.89 M664.30,143.42 L665.31,143.46 L666.32,143.50 L667.33,143.53 L668.34,143.57 L669.35,143.61 L670.36,143.65 L671.37,143.69 L672.38,143.73 L673.39,143.77 L674.40,143.81 L675.41,143.85 L676.42,143.89 L677.43,143.93 L678.44,143.97 L679.46,144.01 L680.47,144.05 L681.48,144.09 L682.49,144.13 L683.50,144.17 L684.51,144.21 L685.52,144.25 L686.53,144.29 L687.54,144.33 L688.55,144.37 L689.56,144.41 L690.57,144.45 L691.58,144.49 L692.59,144.53 L693.60,144.57 M664.30,1053.44 L665.31,1052.74 L666.32,1052.04 L667.33,1051.34 L668.34,1050.65 L669.35,1049.95 L670.36,1049.25 L671.37,1048.56 L672.38,1047.86 L673.39,1047.16 L674.40,1046.47 L675.41,1045.77 L676.42,1045.08 L677.43,1044.39 L678.44,1043.69 L679.46,1043.00 L680.47,1042.30 L681.48,1041.61 L682.49,1040.92 L683.50,1040.23 L684.51,1039.54 L685.52,1038.84 L686.53,1038.15 L687.54,1037.46 L688.55,1036.77 L689.56,1036.08 L690.57,1035.39 L691.58,1034.70 L692.59,1034.02 L693.60,1033.33 M725.80,145.89 L726.81,145.93 L727.82,145.97 L728.83,146.01 L729.84,146.06 L730.85,146.10 L731.86,146.14 L732.87,146.18 L733.88,146.23 L734.89,146.27 L735.90,146.31 L736.91,146.35 L737.92,146.40 L738.93,146.44 L739.94,146.48 L740.96,146.52 L741.97,146.57 L742.98,146.61 L743.99,146.65 L745.00,146.69 L746.01,146.74 L747.02,146.78 L748.03,146.82 L749.04,146.87 L750.05,146.91 L751.06,146.95 L752.07,147.00 L753.08,147.04 L754.09,147.08 L755.10,147.12 M725.80,1011.56 L726.81,1010.88 L727.82,1010.21 L728.83,1009.53 L729.84,1008.85 L730.85,1008.18 L731.86,1007.50 L732.87,1006.83 L733.88,1006.15 L734.89,1005.48 L735.90,1004.80 L736.91,1004.13 L737.92,1003.46 L738.93,1002.78 L739.94,1002.11 L740.96,1001.44 L741.97,1000.77 L742.98,1000.09 L743.99,999.42 L745.00,998.75 L746.01,998.08 L747.02,997.41 L748.03,996.74 L749.04,996.07 L750.05,995.40 L751.06,994.73 L752.07,994.06 L753.08,993.39 L754.09,992.73 L755.10,992.06 M787.30,148.53 L788.31,148.57 L789.32,148.62 L790.33,148.66 L791.34,148.71 L792.35,148.75 L793.36,148.80 L794.37,148.84 L795.38,148.89 L796.39,148.93 L797.40,148.98 L798.41,149.02 L799.42,149.07 L800.43,149.11 L801.44,149.16 L802.46,149.20 L803.47,149.25 L804.48,149.30 L805.49,149.34 L806.50,149.39 L807.51,149.43 L808.52,149.48 L809.53,149.52 L810.54,149.57 L811.55,149.62 L812.56,149.66 L813.57,149.71 L814.58,149.76 L815.59,149.80 L816.60,149.85 M787.30,970.94 L788.31,970.28 L789.32,969.63 L790.33,968.97 L791.34,968.31 L792.35,967.66 L793.36,967.00 L794.37,966.35 L795.38,965.69 L796.39,965.04 L797.40,964.38 L798.41,963.73 L799.42,963.07 L800.43,962.42 L801.44,961.77 L802.46,961.11 L803.47,960.46 L804.48,959.81 L805.49,959.16 L806.50,958.51 L807.51,957.85 L808.52,957.20 L809.53,956.55 L810.54,955.90 L811.55,955.25 L812.56,954.60 L813.57,953.95 L814.58,953.30 L815.59,952.65 L816.60,952.00 M848.80,151.34 L849.81,151.39 L850.82,151.44 L851.83,151.49 L852.84,151.54 L853.85,151.58 L854.86,151.63 L855.87,151.68 L856.88,151.73 L857.89,151.78 L858.90,151.82 L859.91,151.87 L860.92,151.92 L861.93,151.97 L862.94,152.02 L863.96,152.06 L864.97,152.11 L865.98,152.16 L866.99,152.21 L868.00,152.26 L869.01,152.31 L870.02,152.35 L871.03,152.40 L872.04,152.45 L873.05,152.50 L874.06,152.55 L875.07,152.60 L876.08,152.65 L877.09,152.70 L878.10,152.74 M848.80,931.49 L849.81,930.86 L850.82,930.22 L851.83,929.58 L852.84,928.94 L853.85,928.30 L854.86,927.67 L855.87,927.03 L856.88,926.39 L857.89,925.76 L858.90,925.12 L859.91,924.49 L860.92,923.85 L861.93,923.22 L862.94,922.58 L863.96,921.95 L864.97,921.31 L865.98,920.68 L866.99,920.05 L868.00,919.41 L869.01,918.78 L870.02,918.15 L871.03,917.51 L872.04,916.88 L873.05,916.25 L874.06,915.62 L875.07,914.99 L876.08,914.36 L877.09,913.73 L878.10,913.10 M910.30,154.32 L911.31,154.37 L912.32,154.42 L913.33,154.47 L914.34,154.52 L915.35,154.57 L916.36,154.63 L917.37,154.68 L918.38,154.73 L919.39,154.78 L920.40,154.83 L921.41,154.88 L922.42,154.93 L923.43,154.98 L924.44,155.03 L925.46,155.08 L926.47,155.13 L927.48,155.18 L928.49,155.24 L929.50,155.29 L930.51,155.34 L931.52,155.39 L932.53,155.44 L933.54,155.49 L934.55,155.54 L935.56,155.60 L936.57,155.65 L937.58,155.70 L938.59,155.75 L939.60,155.80 M910.30,893.15 L911.31,892.53 L912.32,891.91 L913.33,891.29 L914.34,890.67 L915.35,890.05 L916.36,889.43 L917.37,888.81 L918.38,888.19 L919.39,887.58 L920.40,886.96 L921.41,886.34 L922.42,885.72 L923.43,885.10 L924.44,884.49 L925.46,883.87 L926.47,883.25 L927.48,882.64 L928.49,882.02 L929.50,881.40 L930.51,880.79 L931.52,880.17 L932.53,879.56 L933.54,878.94 L934.55,878.33 L935.56,877.71 L936.57,877.10 L937.58,876.49 L938.59,875.87 L939.60,875.26 M971.80,157.47 L972.81,157.53 L973.82,157.58 L974.83,157.63 L975.84,157.69 L976.85,157.74 L977.86,157.79 L978.87,157.85 L979.88,157.90 L980.89,157.95 L981.90,158.01 L982.91,158.06 L983.92,158.11 L984.93,158.17 L985.94,158.22 L986.96,158.28 L987.97,158.33 L988.98,158.38 L989.99,158.44 L991.00,158.49 L992.01,158.55 L993.02,158.60 L994.03,158.65 L995.04,158.71 L996.05,158.76 L997.06,158.82 L998.07,158.87 L999.08,158.93 L1000.09,158.98 L1001.10,159.03 M971.80,855.86 L972.81,855.25 L973.82,854.65 L974.83,854.04 L975.84,853.44 L976.85,852.84 L977.86,852.23 L978.87,851.63 L979.88,851.03 L980.89,850.42 L981.90,849.82 L982.91,849.22 L983.92,848.62 L984.93,848.02 L985.94,847.41 L986.96,846.81 L987.97,846.21 L988.98,845.61 L989.99,845.01 L991.00,844.41 L992.01,843.81 L993.02,843.21 L994.03,842.62 L995.04,842.02 L996.05,841.42 L997.06,840.82 L998.07,840.22 L999.08,839.62 L1000.09,839.03 L1001.10,838.43 M1033.30,160.80 L1034.31,160.85 L1035.32,160.91 L1036.33,160.96 L1037.34,161.02 L1038.35,161.08 L1039.36,161.13 L1040.37,161.19 L1041.38,161.25 L1042.39,161.30 L1043.40,161.36 L1044.41,161.42 L1045.42,161.47 L1046.43,161.53 L1047.44,161.59 L1048.46,161.64 L1049.47,161.70 L1050.48,161.76 L1051.49,161.81 L1052.50,161.87 L1053.51,161.93 L1054.52,161.99 L1055.53,162.04 L1056.54,162.10 L1057.55,162.16 L1058.56,162.22 L1059.57,162.27 L1060.58,162.33 L1061.59,162.39 L1062.60,162.45 M1033.30,819.53 L1034.31,818.94 L1035.32,818.35 L1036.33,817.76 L1037.34,817.17 L1038.35,816.59 L1039.36,816.00 L1040.37,815.41 L1041.38,814.82 L1042.39,814.24 L1043.40,813.65 L1044.41,813.06 L1045.42,812.48 L1046.43,811.89 L1047.44,811.30 L1048.46,810.72 L1049.47,810.13 L1050.48,809.55 L1051.49,808.96 L1052.50,808.38 L1053.51,807.79 L1054.52,807.21 L1055.53,806.62 L1056.54,806.04 L1057.55,805.46 L1058.56,804.87 L1059.57,804.29 L1060.58,803.71 L1061.59,803.12 L1062.60,802.54 M1094.80,164.32 L1095.81,164.38 L1096.82,164.44 L1097.83,164.50 L1098.84,164.56 L1099.85,164.62 L1100.86,164.68 L1101.87,164.74 L1102.88,164.80 L1103.89,164.86 L1104.90,164.92 L1105.91,164.98 L1106.92,165.04 L1107.93,165.10 L1108.94,165.16 L1109.96,165.22 L1110.97,165.29 L1111.98,165.35 L1112.99,165.41 L1114.00,165.47 L1115.01,165.53 L1116.02,165.59 L1117.03,165.65 L1118.04,165.71 L1119.05,165.77 L1120.06,165.84 L1121.07,165.90 L1122.08,165.96 L1123.09,166.02 L1124.10,166.08 M1094.80,784.09 L1095.81,783.52 L1096.82,782.95 L1097.83,782.37 L1098.84,781.80 L1099.85,781.22 L1100.86,780.65 L1101.87,780.08 L1102.88,779.50 L1103.89,778.93 L1104.90,778.36 L1105.91,777.78 L1106.92,777.21 L1107.93,776.64 L1108.94,776.07 L1109.96,775.49 L1110.97,774.92 L1111.98,774.35 L1112.99,773.78 L1114.00,773.21 L1115.01,772.64 L1116.02,772.07 L1117.03,771.50 L1118.04,770.93 L1119.05,770.36 L1120.06,769.79 L1121.07,769.22 L1122.08,768.65 L1123.09,768.08 L1124.10,767.51 M1156.30,168.08 L1157.31,168.14 L1158.32,168.21 L1159.33,168.27 L1160.34,168.34 L1161.35,168.40 L1162.36,168.46 L1163.37,168.53 L1164.38,168.59 L1165.39,168.66 L1166.40,168.72 L1167.41,168.79 L1168.42,168.85 L1169.43,168.92 L1170.44,168.98 L1171.46,169.05 L1172.47,169.11 L1173.48,169.18 L1174.49,169.24 L1175.50,169.31 L1176.51,169.37 L1177.52,169.44 L1178.53,169.50 L1179.54,169.57 L1180.55,169.64 L1181.56,169.70 L1182.57,169.77 L1183.58,169.83 L1184.59,169.90 L1185.60,169.97 M1156.30,749.47 L1157.31,748.91 L1158.32,748.35 L1159.33,747.79 L1160.34,747.22 L1161.35,746.66 L1162.36,746.10 L1163.37,745.54 L1164.38,744.98 L1165.39,744.42 L1166.40,743.86 L1167.41,743.29 L1168.42,742.73 L1169.43,742.17 L1170.44,741.61 L1171.46,741.05 L1172.47,740.49 L1173.48,739.94 L1174.49,739.38 L1175.50,738.82 L1176.51,738.26 L1177.52,737.70 L1178.53,737.14 L1179.54,736.58 L1180.55,736.02 L1181.56,735.47 L1182.57,734.91 L1183.58,734.35 L1184.59,733.79 L1185.60,733.24 M1217.80,172.14 L1218.81,172.21 L1219.82,172.28 L1220.82,172.35 L1221.83,172.42 L1222.84,172.49 L1223.85,172.56 L1224.86,172.63 L1225.86,172.70 L1226.87,172.77 L1227.88,172.84 L1228.89,172.91 L1229.90,172.98 L1230.91,173.05 L1231.91,173.13 L1232.92,173.20 L1233.93,173.27 L1234.94,173.34 L1235.95,173.41 L1236.95,173.48 L1237.96,173.55 L1238.97,173.62 L1239.98,173.70 L1240.99,173.77 L1241.99,173.84 L1243.00,173.91 L1244.01,173.98 L1245.02,174.06 L1246.03,174.13 L1247.04,174.20 L1248.04,174.27 L1249.05,174.35 L1250.06,174.42 L1251.07,174.49 L1252.08,174.56 L1253.08,174.64 L1254.09,174.71 L1255.10,174.78 M1217.80,715.57 L1218.81,715.02 L1219.82,714.47 L1220.82,713.92 L1221.83,713.37 L1222.84,712.82 L1223.85,712.27 L1224.86,711.72 L1225.86,711.17 L1226.87,710.62 L1227.88,710.07 L1228.89,709.52 L1229.90,708.97 L1230.91,708.42 L1231.91,707.87 L1232.92,707.32 L1233.93,706.78 L1234.94,706.23 L1235.95,705.68 L1236.95,705.13 L1237.96,704.58 L1238.97,704.03 L1239.98,703.48 L1240.99,702.94 L1241.99,702.39 L1243.00,701.84 L1244.01,701.29 L1245.02,700.75 L1246.03,700.20 L1247.04,699.65 L1248.04,699.11 L1249.05,698.56 L1250.06,698.01 L1251.07,697.47 L1252.08,696.92 L1253.08,696.38 L1254.09,695.83 L1255.10,695.29 M1287.30,177.19 L1288.31,177.27 L1289.32,177.34 L1290.33,177.42 L1291.34,177.50 L1292.35,177.58 L1293.36,177.66 L1294.37,177.73 L1295.38,177.81 L1296.39,177.89 L1297.40,177.97 L1298.41,178.05 L1299.42,178.13 L1300.43,178.21 L1301.44,178.29 L1302.46,178.37 L1303.47,178.45 L1304.48,178.53 L1305.49,178.61 L1306.50,178.69 L1307.51,178.77 L1308.52,178.85 L1309.53,178.93 L1310.54,179.01 L1311.55,179.09 L1312.56,179.18 L1313.57,179.26 L1314.58,179.34 L1315.59,179.42 L1316.60,179.50 M1287.30,677.95 L1288.31,677.40 L1289.32,676.86 L1290.33,676.32 L1291.34,675.78 L1292.35,675.24 L1293.36,674.69 L1294.37,674.15 L1295.38,673.61 L1296.39,673.07 L1297.40,672.53 L1298.41,671.99 L1299.42,671.45 L1300.43,670.91 L1301.44,670.36 L1302.46,669.82 L1303.47,669.28 L1304.48,668.74 L1305.49,668.20 L1306.50,667.66 L1307.51,667.12 L1308.52,666.58 L1309.53,666.04 L1310.54,665.50 L1311.55,664.96 L1312.56,664.42 L1313.57,663.88 L1314.58,663.34 L1315.59,662.80 L1316.60,662.26 M1348.80,182.21 L1349.81,182.29 L1350.82,182.38 L1351.83,182.47 L1352.84,182.56 L1353.85,182.65 L1354.86,182.74 L1355.87,182.82 L1356.88,182.91 L1357.89,183.00 L1358.90,183.09 L1359.91,183.18 L1360.92,183.27 L1361.93,183.36 L1362.94,183.45 L1363.96,183.54 L1364.97,183.63 L1365.98,183.72 L1366.99,183.81 L1368.00,183.90 L1369.01,183.99 L1370.02,184.08 L1371.03,184.17 L1372.04,184.26 L1373.05,184.36 L1374.06,184.45 L1375.07,184.54 L1376.08,184.63 L1377.09,184.72 L1378.10,184.82 M1348.80,645.09 L1349.81,644.55 L1350.82,644.02 L1351.83,643.48 L1352.84,642.94 L1353.85,642.41 L1354.86,641.87 L1355.87,641.33 L1356.88,640.80 L1357.89,640.26 L1358.90,639.73 L1359.91,639.19 L1360.92,638.65 L1361.93,638.12 L1362.94,637.58 L1363.96,637.05 L1364.97,636.51 L1365.98,635.97 L1366.99,635.44 L1368.00,634.90 L1369.01,634.37 L1370.02,633.83 L1371.03,633.30 L1372.04,632.76 L1373.05,632.23 L1374.06,631.69 L1375.07,631.16 L1376.08,630.62 L1377.09,630.09 L1378.10,629.55 M1410.30,187.88 L1411.31,187.98 L1412.32,188.08 L1413.33,188.18 L1414.34,188.28 L1415.35,188.38 L1416.36,188.48 L1417.37,188.58 L1418.38,188.68 L1419.39,188.78 L1420.40,188.88 L1421.41,188.99 L1422.42,189.09 L1423.43,189.19 L1424.44,189.29 L1425.46,189.40 L1426.47,189.50 L1427.48,189.60 L1428.49,189.71 L1429.50,189.81 L1430.51,189.92 L1431.52,190.02 L1432.53,190.13 L1433.54,190.23 L1434.55,190.34 L1435.56,190.44 L1436.57,190.55 L1437.58,190.65 L1438.59,190.76 L1439.60,190.87 M1410.30,612.48 L1411.31,611.95 L1412.32,611.41 L1413.33,610.87 L1414.34,610.34 L1415.35,609.80 L1416.36,609.27 L1417.37,608.73 L1418.38,608.19 L1419.39,607.66 L1420.40,607.12 L1421.41,606.59 L1422.42,606.05 L1423.43,605.52 L1424.44,604.98 L1425.46,604.45 L1426.47,603.91 L1427.48,603.38 L1428.49,602.84 L1429.50,602.31 L1430.51,601.77 L1431.52,601.24 L1432.53,600.70 L1433.54,600.17 L1434.55,599.63 L1435.56,599.10 L1436.57,598.56 L1437.58,598.03 L1438.59,597.49 L1439.60,596.96 M1471.80,194.42 L1472.81,194.54 L1473.82,194.66 L1474.83,194.78 L1475.84,194.89 L1476.85,195.01 L1477.86,195.13 L1478.87,195.25 L1479.88,195.37 L1480.89,195.49 L1481.90,195.61 L1482.91,195.73 L1483.92,195.85 L1484.93,195.97 L1485.94,196.09 L1486.96,196.21 L1487.97,196.33 L1488.98,196.45 L1489.99,196.57 L1491.00,196.69 L1492.01,196.82 L1493.02,196.94 L1494.03,197.06 L1495.04,197.19 L1496.05,197.31 L1497.06,197.43 L1498.07,197.56 L1499.08,197.68 L1500.09,197.81 L1501.10,197.93 M1471.80,579.89 L1472.81,579.36 L1473.82,578.82 L1474.83,578.28 L1475.84,577.74 L1476.85,577.21 L1477.86,576.67 L1478.87,576.13 L1479.88,575.60 L1480.89,575.06 L1481.90,574.52 L1482.91,573.98 L1483.92,573.44 L1484.93,572.91 L1485.94,572.37 L1486.96,571.83 L1487.97,571.29 L1488.98,570.75 L1489.99,570.21 L1491.00,569.67 L1492.01,569.13 L1493.02,568.59 L1494.03,568.05 L1495.04,567.51 L1496.05,566.97 L1497.06,566.43 L1498.07,565.89 L1499.08,565.35 L1500.09,564.81 L1501.10,564.27 M1533.30,202.07 L1534.31,202.20 L1535.32,202.34 L1536.33,202.47 L1537.34,202.61 L1538.35,202.74 L1539.36,202.88 L1540.37,203.02 L1541.38,203.15 L1542.39,203.29 L1543.40,203.42 L1544.41,203.56 L1545.42,203.70 L1546.43,203.84 L1547.44,203.98 L1548.46,204.11 L1549.47,204.25 L1550.48,204.39 L1551.49,204.53 L1552.50,204.67 L1553.51,204.81 L1554.52,204.95 L1555.53,205.09 L1556.54,205.23 L1557.55,205.37 L1558.56,205.51 L1559.57,205.65 L1560.58,205.79 L1561.59,205.93 L1562.60,206.07 M1533.30,547.02 L1534.31,546.48 L1535.32,545.93 L1536.33,545.39 L1537.34,544.85 L1538.35,544.31 L1539.36,543.76 L1540.37,543.22 L1541.38,542.67 L1542.39,542.13 L1543.40,541.59 L1544.41,541.04 L1545.42,540.50 L1546.43,539.95 L1547.44,539.41 L1548.46,538.86 L1549.47,538.32 L1550.48,537.77 L1551.49,537.23 L1552.50,536.68 L1553.51,536.14 L1554.52,535.59 L1555.53,535.04 L1556.54,534.50 L1557.55,533.95 L1558.56,533.40 L1559.57,532.86 L1560.58,532.31 L1561.59,531.76 L1562.60,531.21 M1594.80,210.68 L1595.81,210.83 L1596.82,210.98 L1597.83,211.13 L1598.84,211.28 L1599.85,211.43 L1600.86,211.58 L1601.87,211.73 L1602.88,211.89 L1603.89,212.04 L1604.90,212.19 L1605.91,212.34 L1606.92,212.50 L1607.93,212.65 L1608.94,212.81 L1609.96,212.96 L1610.97,213.12 L1611.98,213.27 L1612.99,213.43 L1614.00,213.59 L1615.01,213.74 L1616.02,213.90 L1617.03,214.06 L1618.04,214.22 L1619.05,214.38 L1620.06,214.54 L1621.07,214.70 L1622.08,214.86 L1623.09,215.02 L1624.10,215.18 M1594.80,513.60 L1595.81,513.05 L1596.82,512.49 L1597.83,511.94 L1598.84,511.38 L1599.85,510.83 L1600.86,510.27 L1601.87,509.72 L1602.88,509.16 L1603.89,508.60 L1604.90,508.05 L1605.91,507.49 L1606.92,506.94 L1607.93,506.38 L1608.94,505.82 L1609.96,505.27 L1610.97,504.71 L1611.98,504.15 L1612.99,503.59 L1614.00,503.04 L1615.01,502.48 L1616.02,501.92 L1617.03,501.36 L1618.04,500.80 L1619.05,500.24 L1620.06,499.68 L1621.07,499.12 L1622.08,498.56 L1623.09,498.00 L1624.10,497.44 M1656.30,220.69 L1657.31,220.87 L1658.32,221.06 L1659.33,221.24 L1660.34,221.43 L1661.35,221.62 L1662.36,221.80 L1663.37,221.99 L1664.38,222.18 L1665.39,222.37 L1666.40,222.57 L1667.41,222.76 L1668.42,222.95 L1669.43,223.15 L1670.44,223.34 L1671.46,223.54 L1672.47,223.74 L1673.48,223.94 L1674.49,224.14 L1675.50,224.34 L1676.51,224.55 L1677.52,224.75 L1678.53,224.96 L1679.54,225.17 L1680.55,225.38 L1681.56,225.60 L1682.57,225.81 L1683.58,226.03 L1684.59,226.25 L1685.60,226.47 M1656.30,479.35 L1657.31,478.77 L1658.32,478.19 L1659.33,477.62 L1660.34,477.04 L1661.35,476.46 L1662.36,475.88 L1663.37,475.30 L1664.38,474.72 L1665.39,474.13 L1666.40,473.55 L1667.41,472.97 L1668.42,472.38 L1669.43,471.80 L1670.44,471.21 L1671.46,470.63 L1672.47,470.04 L1673.48,469.46 L1674.49,468.87 L1675.50,468.29 L1676.51,467.70 L1677.52,467.12 L1678.53,466.54 L1679.54,465.95 L1680.55,465.37 L1681.56,464.79 L1682.57,464.20 L1683.58,463.62 L1684.59,463.04 L1685.60,462.45 M1717.80,234.31 L1718.81,234.58 L1719.82,234.85 L1720.83,235.12 L1721.84,235.40 L1722.85,235.67 L1723.86,235.95 L1724.87,236.23 L1725.88,236.51 L1726.89,236.79 L1727.90,237.07 L1728.91,237.36 L1729.92,237.64 L1730.93,237.93 L1731.94,238.22 L1732.96,238.51 L1733.97,238.80 L1734.98,239.09 L1735.99,239.39 L1737.00,239.69 L1738.01,239.98 L1739.02,240.28 L1740.03,240.59 L1741.04,240.89 L1742.05,241.20 L1743.06,241.50 L1744.07,241.81 L1745.08,242.13 L1746.09,242.44 L1747.10,242.76 M1717.80,443.34 L1718.81,442.71 L1719.82,442.08 L1720.83,441.45 L1721.84,440.82 L1722.85,440.18 L1723.86,439.54 L1724.87,438.90 L1725.88,438.26 L1726.89,437.61 L1727.90,436.96 L1728.91,436.31 L1729.92,435.65 L1730.93,434.99 L1731.94,434.33 L1732.96,433.67 L1733.97,433.00 L1734.98,432.33 L1735.99,431.65 L1737.00,430.98 L1738.01,430.30 L1739.02,429.62 L1740.03,428.94 L1741.04,428.25 L1742.05,427.56 L1743.06,426.87 L1744.07,426.18 L1745.08,425.48 L1746.09,424.78 L1747.10,424.08 M1779.30,254.12 L1780.31,254.52 L1781.32,254.93 L1782.33,255.35 L1783.34,255.76 L1784.35,256.19 L1785.36,256.62 L1786.37,257.05 L1787.38,257.49 L1788.39,257.93 L1789.40,258.39 L1790.41,258.84 L1791.42,259.31 L1792.43,259.78 L1793.44,260.26 L1794.46,260.74 L1795.47,261.23 L1796.48,261.73 L1797.49,262.24 L1798.50,262.75 L1799.51,263.27 L1800.52,263.80 L1801.53,264.34 L1802.54,264.89 L1803.55,265.45 L1804.56,266.01 L1805.57,266.58 L1806.58,267.17 L1807.59,267.76 L1808.60,268.36 M1779.30,400.54 L1780.31,399.77 L1781.32,398.99 L1782.33,398.21 L1783.34,397.43 L1784.35,396.65 L1785.36,395.87 L1786.37,395.09 L1787.38,394.30 L1788.39,393.51 L1789.40,392.72 L1790.41,391.93 L1791.42,391.14 L1792.43,390.34 L1793.44,389.54 L1794.46,388.75 L1795.47,387.95 L1796.48,387.15 L1797.49,386.35 L1798.50,385.54 L1799.51,384.73 L1800.52,383.91 L1801.53,383.09 L1802.54,382.25 L1803.55,381.40 L1804.56,380.54 L1805.57,379.66 L1806.58,378.76 L1807.59,377.85 L1808.60,376.92 M1840.80,293.80 L1841.81,294.84 L1842.83,295.94 L1843.84,297.08 L1844.85,298.27 L1845.86,299.51 L1846.88,300.78 L1847.89,302.09 L1848.90,303.43 L1849.91,304.80 L1850.92,306.20 L1851.94,307.62 L1852.95,309.07 L1853.96,310.53 L1854.97,312.01 L1855.99,313.50 L1857.00,315.00 L1855.99,316.71 L1854.97,318.40 L1853.96,320.08 L1852.95,321.75 L1851.94,323.40 L1850.92,325.03 L1849.91,326.65 L1848.90,328.25 L1847.89,329.83 L1846.88,331.39 L1845.86,332.93 L1844.85,334.45 L1843.84,335.95 L1842.83,337.42 L1841.81,338.87 L1840.80,340.29"/>
</g>
<!-- legend -->
<g fill="none" stroke-linecap="round">
<path stroke="#231f20" stroke-width="6.25" d="M1634.72,857.85 H1834.28"/>
<path stroke="#ed1c24" stroke-width="8.3" d="M1635.75,968.65 H1641.25 M1652.07,968.65 H1657.57 M1668.39,968.65 H1673.89 M1684.71,968.65 H1690.21 M1701.03,968.65 H1706.53 M1717.35,968.65 H1722.85 M1733.67,968.65 H1739.17 M1749.99,968.65 H1755.49 M1766.31,968.65 H1771.81 M1782.63,968.65 H1788.13 M1798.95,968.65 H1804.45 M1815.27,968.65 H1820.77 M1831.59,968.65 H1833.25"/>
<path stroke="#3953a4" stroke-width="6.25" d="M1634.72,1079.4 H1664.02 M1696.22,1079.4 H1725.52 M1757.72,1079.4 H1787.02 M1819.22,1079.4 H1834.28"/>
</g>
<!-- labels -->
<g>
<text transform="matrix(0.5173 0 0.0000 0.5484 125.72 67.05)" font-family="'Liberation Sans', Arial, sans-serif" font-size="100" dx="1.8 -1.8 0 0">1.00</text>
<text transform="matrix(0.5173 0 0.0000 0.5484 226.40 289.40)" font-family="'Liberation Sans', Arial, sans-serif" font-size="100" text-anchor="end">0.99</text>
<text transform="matrix(0.5173 0 0.0000 0.5484 226.40 511.90)" font-family="'Liberation Sans', Arial, sans-serif" font-size="100" text-anchor="end">0.98</text>
<text transform="matrix(0.5173 0 0.0000 0.5484 226.40 734.40)" font-family="'Liberation Sans', Arial, sans-serif" font-size="100" text-anchor="end">0.97</text>
<text transform="matrix(0.5173 0 0.0000 0.5484 226.40 956.90)" font-family="'Liberation Sans', Arial, sans-serif" font-size="100" text-anchor="end">0.96</text>
<text transform="matrix(0.5173 0 0.0000 0.5484 226.40 1179.40)" font-family="'Liberation Sans', Arial, sans-serif" font-size="100" text-anchor="end">0.95</text>
<text transform="matrix(0.5173 0 0.0000 0.5484 226.40 1401.90)" font-family="'Liberation Sans', Arial, sans-serif" font-size="100" text-anchor="end">0.94</text>
<text transform="matrix(0.5195 0 0.0000 0.5484 203.80 1456.95)" font-family="'Liberation Sans', Arial, sans-serif" font-size="100" dx="1.8 -1.8 0 0">10.0</text>
<text transform="matrix(0.5195 0 0.0000 0.5484 553.37 1456.80)" font-family="'Liberation Sans', Arial, sans-serif" font-size="100" dx="1.8 -1.8 0 1.8" text-anchor="middle">10.1</text>
<text transform="matrix(0.5195 0 0.0000 0.5484 851.90 1456.80)" font-family="'Liberation Sans', Arial, sans-serif" font-size="100" dx="1.8 -1.8 0 0" text-anchor="middle">10.2</text>
<text transform="matrix(0.5195 0 0.0000 0.5484 1150.90 1456.80)" font-family="'Liberation Sans', Arial, sans-serif" font-size="100" dx="1.8 -1.8 0 0" text-anchor="middle">10.3</text>
<text transform="matrix(0.5195 0 0.0000 0.5484 1449.90 1456.80)" font-family="'Liberation Sans', Arial, sans-serif" font-size="100" dx="1.8 -1.8 0 0" text-anchor="middle">10.4</text>
<text transform="matrix(0.5195 0 0.0000 0.5484 1748.90 1456.80)" font-family="'Liberation Sans', Arial, sans-serif" font-size="100" dx="1.8 -1.8 0 0" text-anchor="middle">10.5</text>
<text transform="matrix(0.5195 0 0.0000 0.5484 2047.90 1456.80)" font-family="'Liberation Sans', Arial, sans-serif" font-size="100" dx="1.8 -1.8 0 0" text-anchor="middle">10.6</text>
<text transform="matrix(0.9465 0 -0.0946 0.9710 27.38 758.23)" font-family="'Liberation Serif', 'Times New Roman', serif" font-size="100" font-style="italic">S</text>
<text transform="matrix(0.5925 0 0.0000 0.5419 76.53 780.80)" font-family="'Liberation Serif', 'Times New Roman', serif" font-size="100">2</text>
<text transform="matrix(0.9143 0 -0.0411 0.8611 1135.03 1556.50)" font-family="'Liberation Serif', 'Times New Roman', serif" font-size="100" font-style="italic">T</text>
<text transform="matrix(0.4725 0 0.0000 0.5497 1198.04 1520.00)" font-family="'Liberation Serif', 'Times New Roman', serif" font-size="100">*</text>
<text transform="matrix(0.5100 0 0.0000 0.5021 1182.40 1578.70)" font-family="'Liberation Serif', 'Times New Roman', serif" font-size="100">vdw</text>
<text transform="matrix(0.7605 0 0.0000 0.7840 1375.63 134.10)" font-family="'Liberation Sans', Arial, sans-serif" font-size="100">N</text>
<text transform="matrix(0.4813 0 0.0000 0.4645 1428.89 163.30)" font-family="'Liberation Sans', Arial, sans-serif" font-size="100">2</text>
<text transform="matrix(0.7570 0 0.0000 0.7782 1337.76 813.40)" font-family="'Liberation Sans', Arial, sans-serif" font-size="100">N</text>
<text transform="matrix(0.5007 0 0.0000 0.4698 1392.08 842.70)" font-family="'Liberation Sans', Arial, sans-serif" font-size="100">1</text>
<text transform="matrix(0.8972 0 0.0000 0.8170 1877.13 889.60)" font-family="'Liberation Serif', 'Times New Roman', serif" font-size="100">λ</text>
<text transform="matrix(0.8946 0 0.0000 0.7200 1919.53 892.04)" font-family="'Liberation Serif', 'Times New Roman', serif" font-size="100">=</text>
<text transform="matrix(0.6128 0 0.0000 0.8379 1971.14 889.00)" font-family="'Liberation Serif', 'Times New Roman', serif" font-size="100">1</text>
<text transform="matrix(0.8972 0 0.0000 0.8170 1877.13 1000.50)" font-family="'Liberation Serif', 'Times New Roman', serif" font-size="100">λ</text>
<text transform="matrix(0.8946 0 0.0000 0.7200 1919.53 1002.94)" font-family="'Liberation Serif', 'Times New Roman', serif" font-size="100">=</text>
<text transform="matrix(0.7491 0 0.0000 0.8357 1966.44 1000.06)" font-family="'Liberation Serif', 'Times New Roman', serif" font-size="100">3</text>
<text transform="matrix(0.8972 0 0.0000 0.8170 1877.13 1111.40)" font-family="'Liberation Serif', 'Times New Roman', serif" font-size="100">λ</text>
<text transform="matrix(0.8946 0 0.0000 0.7200 1919.53 1113.84)" font-family="'Liberation Serif', 'Times New Roman', serif" font-size="100">=</text>
<text transform="matrix(0.7776 0 0.0000 0.8316 1966.33 1110.67)" font-family="'Liberation Serif', 'Times New Roman', serif" font-size="100">5</text>
<text transform="matrix(0.8382 0 0.0000 0.8687 1327.74 1240.03)" font-family="'Liberation Serif', 'Times New Roman', serif" font-size="100" font-style="italic">D/L</text>
<text transform="matrix(0.9935 0 0.0000 0.8040 1453.43 1243.78)" font-family="'Liberation Serif', 'Times New Roman', serif" font-size="100">=</text>
<text transform="matrix(0.7461 0 0.0000 0.7572 1507.40 1239.65)" font-family="'Liberation Serif', 'Times New Roman', serif" font-size="100">80,</text>
<text transform="matrix(1.1081 0 0.0000 0.8808 1633.51 1240.22)" font-family="'Liberation Serif', 'Times New Roman', serif" font-size="100" font-style="italic">ε</text>
<text transform="matrix(0.6659 0 0.0000 0.6637 1668.40 1278.44)" font-family="'Liberation Serif', 'Times New Roman', serif" font-size="100">0</text>
<text transform="matrix(0.9652 0 0.0000 0.9494 1695.34 1243.56)" font-family="'Noto Serif CJK SC', 'Liberation Serif', serif" font-size="100" stroke="#fff" stroke-width="0.8" stroke-linejoin="miter">≠</text>
<text transform="matrix(0.7553 0 0.0000 0.7615 1786.17 1240.34)" font-family="'Liberation Serif', 'Times New Roman', serif" font-size="100">0</text>
<text transform="matrix(0.7267 0 0.0000 0.9294 1828.57 1239.33)" font-family="'Liberation Serif', 'Times New Roman', serif" font-size="100">,</text>
<text transform="matrix(1.1081 0 0.0000 0.8808 1881.71 1240.22)" font-family="'Liberation Serif', 'Times New Roman', serif" font-size="100" font-style="italic">ε</text>
<text transform="matrix(0.7050 0 0.0000 0.6596 1914.93 1278.00)" font-family="'Liberation Serif', 'Times New Roman', serif" font-size="100">2</text>
<text transform="matrix(0.9914 0 0.0000 0.8120 1945.84 1244.05)" font-family="'Liberation Serif', 'Times New Roman', serif" font-size="100">=</text>
<text transform="matrix(0.7482 0 0.0000 0.7615 1998.19 1240.34)" font-family="'Liberation Serif', 'Times New Roman', serif" font-size="100">0</text>
</g>
<g fill="#fff">
<path transform="matrix(0.5173 0 0.0000 0.5484 125.72 67.05)" d="M6.42,-10.07H26.95V3.5H6.42Z M35.78,-10.07H55.53V3.5H35.78Z"/>
<path transform="matrix(0.5195 0 0.0000 0.5484 203.80 1456.95)" d="M6.42,-10.07H26.95V3.5H6.42Z M35.78,-10.07H55.53V3.5H35.78Z"/>
<path transform="matrix(0.5195 0 0.0000 0.5484 553.37 1456.80)" d="M-90.89,-10.07H-70.36V3.5H-90.89Z M-61.52,-10.07H-41.78V3.5H-61.52Z"/>
<path transform="matrix(0.5195 0 0.0000 0.5484 553.37 1456.80)" d="M48.12,-10.07H68.65V3.5H48.12Z M77.48,-10.07H97.23V3.5H77.48Z"/>
<path transform="matrix(0.5195 0 0.0000 0.5484 851.90 1456.80)" d="M-89.99,-10.07H-69.46V3.5H-89.99Z M-60.62,-10.07H-40.88V3.5H-60.62Z"/>
<path transform="matrix(0.5195 0 0.0000 0.5484 1150.90 1456.80)" d="M-89.99,-10.07H-69.46V3.5H-89.99Z M-60.62,-10.07H-40.88V3.5H-60.62Z"/>
<path transform="matrix(0.5195 0 0.0000 0.5484 1449.90 1456.80)" d="M-89.99,-10.07H-69.46V3.5H-89.99Z M-60.62,-10.07H-40.88V3.5H-60.62Z"/>
<path transform="matrix(0.5195 0 0.0000 0.5484 1748.90 1456.80)" d="M-89.99,-10.07H-69.46V3.5H-89.99Z M-60.62,-10.07H-40.88V3.5H-60.62Z"/>
<path transform="matrix(0.5195 0 0.0000 0.5484 2047.90 1456.80)" d="M-89.99,-10.07H-69.46V3.5H-89.99Z M-60.62,-10.07H-40.88V3.5H-60.62Z"/>
<path transform="matrix(0.5007 0 0.0000 0.4698 1392.08 842.70)" d="M4.62,-10.07H25.15V3.5H4.62Z M33.98,-10.07H53.73V3.5H33.98Z"/>
</g>
</svg>
</body>
</html>
